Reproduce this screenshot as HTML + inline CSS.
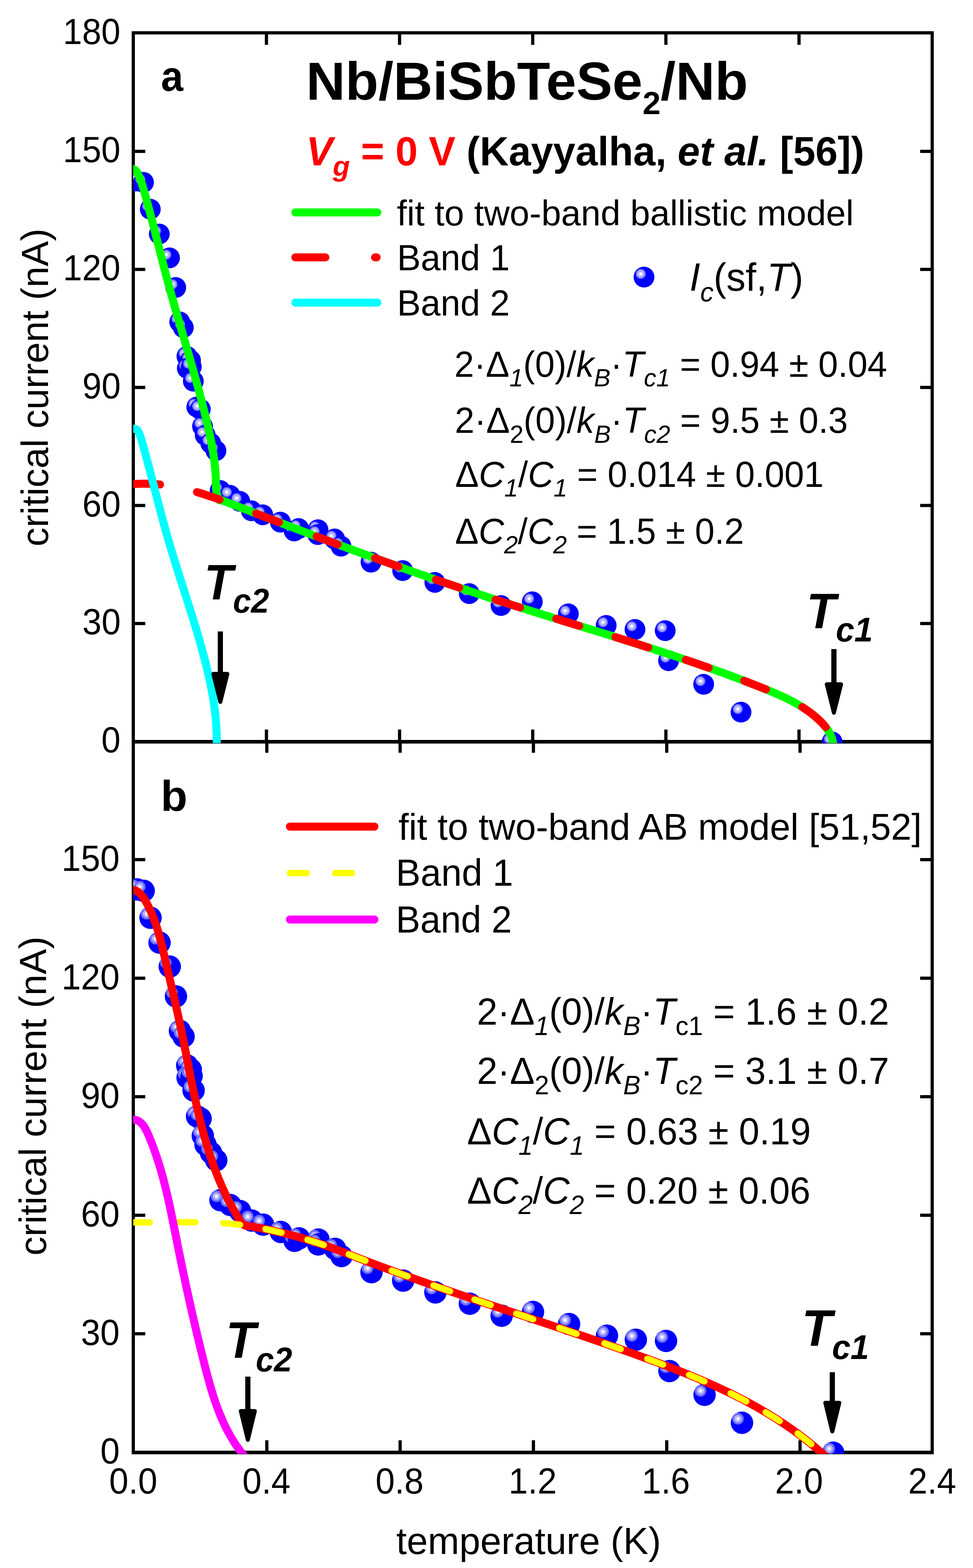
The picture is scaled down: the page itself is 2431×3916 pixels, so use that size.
<!DOCTYPE html><html><head><meta charset="utf-8"><title>critical current vs temperature</title><style>html,body{margin:0;padding:0;background:#fff;}svg{display:block;}</style></head><body><svg xmlns="http://www.w3.org/2000/svg" width="2431" height="3916" viewBox="0 0 2431 3916">
<rect width="2431" height="3916" fill="#fff"/>
<defs><clipPath id="ca"><rect x="333" y="82" width="1996" height="1774"/></clipPath><clipPath id="cb"><rect x="333" y="1856" width="1996" height="1775"/></clipPath></defs>
<rect x="329.0" y="78.0" width="2004.0" height="8.0" fill="#000"/>
<rect x="329.0" y="78.0" width="8.0" height="3554.0" fill="#000"/>
<rect x="2325.0" y="78.0" width="8.0" height="3554.0" fill="#000"/>
<rect x="329.0" y="3623.0" width="2004.0" height="9.0" fill="#000"/>
<rect x="329.0" y="1848.0" width="2004.0" height="9.0" fill="#000"/>
<rect x="337.0" y="1553.2" width="26.0" height="8.0" fill="#000"/>
<rect x="2299.0" y="1553.2" width="26.0" height="8.0" fill="#000"/>
<rect x="337.0" y="3327.0" width="26.0" height="8.0" fill="#000"/>
<rect x="2299.0" y="3327.0" width="26.0" height="8.0" fill="#000"/>
<rect x="337.0" y="1258.4" width="26.0" height="8.0" fill="#000"/>
<rect x="2299.0" y="1258.4" width="26.0" height="8.0" fill="#000"/>
<rect x="337.0" y="3031.0" width="26.0" height="8.0" fill="#000"/>
<rect x="2299.0" y="3031.0" width="26.0" height="8.0" fill="#000"/>
<rect x="337.0" y="963.6" width="26.0" height="8.0" fill="#000"/>
<rect x="2299.0" y="963.6" width="26.0" height="8.0" fill="#000"/>
<rect x="337.0" y="2735.0" width="26.0" height="8.0" fill="#000"/>
<rect x="2299.0" y="2735.0" width="26.0" height="8.0" fill="#000"/>
<rect x="337.0" y="668.8" width="26.0" height="8.0" fill="#000"/>
<rect x="2299.0" y="668.8" width="26.0" height="8.0" fill="#000"/>
<rect x="337.0" y="2439.0" width="26.0" height="8.0" fill="#000"/>
<rect x="2299.0" y="2439.0" width="26.0" height="8.0" fill="#000"/>
<rect x="337.0" y="374.0" width="26.0" height="8.0" fill="#000"/>
<rect x="2299.0" y="374.0" width="26.0" height="8.0" fill="#000"/>
<rect x="337.0" y="2142.9" width="26.0" height="8.0" fill="#000"/>
<rect x="2299.0" y="2142.9" width="26.0" height="8.0" fill="#000"/>
<rect x="661.7" y="86.0" width="8.0" height="26.0" fill="#000"/>
<rect x="661.7" y="1822.0" width="8.0" height="30.0" fill="#000"/>
<rect x="662.6" y="1852.0" width="8.0" height="28.0" fill="#000"/>
<rect x="662.6" y="3597.0" width="8.0" height="30.0" fill="#000"/>
<rect x="994.3" y="86.0" width="8.0" height="26.0" fill="#000"/>
<rect x="994.3" y="1822.0" width="8.0" height="30.0" fill="#000"/>
<rect x="995.7" y="1852.0" width="8.0" height="28.0" fill="#000"/>
<rect x="995.7" y="3597.0" width="8.0" height="30.0" fill="#000"/>
<rect x="1327.0" y="86.0" width="8.0" height="26.0" fill="#000"/>
<rect x="1327.0" y="1822.0" width="8.0" height="30.0" fill="#000"/>
<rect x="1328.7" y="1852.0" width="8.0" height="28.0" fill="#000"/>
<rect x="1328.7" y="3597.0" width="8.0" height="30.0" fill="#000"/>
<rect x="1659.7" y="86.0" width="8.0" height="26.0" fill="#000"/>
<rect x="1659.7" y="1822.0" width="8.0" height="30.0" fill="#000"/>
<rect x="1661.8" y="1852.0" width="8.0" height="28.0" fill="#000"/>
<rect x="1661.8" y="3597.0" width="8.0" height="30.0" fill="#000"/>
<rect x="1992.3" y="86.0" width="8.0" height="26.0" fill="#000"/>
<rect x="1992.3" y="1822.0" width="8.0" height="30.0" fill="#000"/>
<rect x="1994.9" y="1852.0" width="8.0" height="28.0" fill="#000"/>
<rect x="1994.9" y="3597.0" width="8.0" height="30.0" fill="#000"/>
<g clip-path="url(#ca)">
<circle cx="342.0" cy="452.0" r="26.0" fill="#0000ff"/><circle cx="334.0" cy="444.0" r="12.5" fill="#7070ff"/><circle cx="334.0" cy="444.0" r="9.5" fill="#b4b4ff"/><circle cx="334.0" cy="444.0" r="4.1" fill="#f8f8ff"/>
<circle cx="358.5" cy="455.5" r="26.0" fill="#0000ff"/><circle cx="350.5" cy="447.5" r="12.5" fill="#7070ff"/><circle cx="350.5" cy="447.5" r="9.5" fill="#b4b4ff"/><circle cx="350.5" cy="447.5" r="4.1" fill="#f8f8ff"/>
<circle cx="375.5" cy="522.5" r="26.0" fill="#0000ff"/><circle cx="367.5" cy="514.5" r="12.5" fill="#7070ff"/><circle cx="367.5" cy="514.5" r="9.5" fill="#b4b4ff"/><circle cx="367.5" cy="514.5" r="4.1" fill="#f8f8ff"/>
<circle cx="398.0" cy="584.4" r="26.0" fill="#0000ff"/><circle cx="390.0" cy="576.4" r="12.5" fill="#7070ff"/><circle cx="390.0" cy="576.4" r="9.5" fill="#b4b4ff"/><circle cx="390.0" cy="576.4" r="4.1" fill="#f8f8ff"/>
<circle cx="423.5" cy="644.0" r="26.0" fill="#0000ff"/><circle cx="415.5" cy="636.0" r="12.5" fill="#7070ff"/><circle cx="415.5" cy="636.0" r="9.5" fill="#b4b4ff"/><circle cx="415.5" cy="636.0" r="4.1" fill="#f8f8ff"/>
<circle cx="439.0" cy="718.0" r="26.0" fill="#0000ff"/><circle cx="431.0" cy="710.0" r="12.5" fill="#7070ff"/><circle cx="431.0" cy="710.0" r="9.5" fill="#b4b4ff"/><circle cx="431.0" cy="710.0" r="4.1" fill="#f8f8ff"/>
<circle cx="449.0" cy="804.0" r="26.0" fill="#0000ff"/><circle cx="441.0" cy="796.0" r="12.5" fill="#7070ff"/><circle cx="441.0" cy="796.0" r="9.5" fill="#b4b4ff"/><circle cx="441.0" cy="796.0" r="4.1" fill="#f8f8ff"/>
<circle cx="458.0" cy="818.0" r="26.0" fill="#0000ff"/><circle cx="450.0" cy="810.0" r="12.5" fill="#7070ff"/><circle cx="450.0" cy="810.0" r="9.5" fill="#b4b4ff"/><circle cx="450.0" cy="810.0" r="4.1" fill="#f8f8ff"/>
<circle cx="467.0" cy="890.0" r="26.0" fill="#0000ff"/><circle cx="459.0" cy="882.0" r="12.5" fill="#7070ff"/><circle cx="459.0" cy="882.0" r="9.5" fill="#b4b4ff"/><circle cx="459.0" cy="882.0" r="4.1" fill="#f8f8ff"/>
<circle cx="476.0" cy="900.0" r="26.0" fill="#0000ff"/><circle cx="468.0" cy="892.0" r="12.5" fill="#7070ff"/><circle cx="468.0" cy="892.0" r="9.5" fill="#b4b4ff"/><circle cx="468.0" cy="892.0" r="4.1" fill="#f8f8ff"/>
<circle cx="468.0" cy="920.0" r="26.0" fill="#0000ff"/><circle cx="460.0" cy="912.0" r="12.5" fill="#7070ff"/><circle cx="460.0" cy="912.0" r="9.5" fill="#b4b4ff"/><circle cx="460.0" cy="912.0" r="4.1" fill="#f8f8ff"/>
<circle cx="478.0" cy="916.0" r="26.0" fill="#0000ff"/><circle cx="470.0" cy="908.0" r="12.5" fill="#7070ff"/><circle cx="470.0" cy="908.0" r="9.5" fill="#b4b4ff"/><circle cx="470.0" cy="908.0" r="4.1" fill="#f8f8ff"/>
<circle cx="483.0" cy="952.0" r="26.0" fill="#0000ff"/><circle cx="475.0" cy="944.0" r="12.5" fill="#7070ff"/><circle cx="475.0" cy="944.0" r="9.5" fill="#b4b4ff"/><circle cx="475.0" cy="944.0" r="4.1" fill="#f8f8ff"/>
<circle cx="491.6" cy="1016.4" r="26.0" fill="#0000ff"/><circle cx="483.6" cy="1008.4" r="12.5" fill="#7070ff"/><circle cx="483.6" cy="1008.4" r="9.5" fill="#b4b4ff"/><circle cx="483.6" cy="1008.4" r="4.1" fill="#f8f8ff"/>
<circle cx="500.5" cy="1022.0" r="26.0" fill="#0000ff"/><circle cx="492.5" cy="1014.0" r="12.5" fill="#7070ff"/><circle cx="492.5" cy="1014.0" r="9.5" fill="#b4b4ff"/><circle cx="492.5" cy="1014.0" r="4.1" fill="#f8f8ff"/>
<circle cx="506.0" cy="1064.6" r="26.0" fill="#0000ff"/><circle cx="498.0" cy="1056.6" r="12.5" fill="#7070ff"/><circle cx="498.0" cy="1056.6" r="9.5" fill="#b4b4ff"/><circle cx="498.0" cy="1056.6" r="4.1" fill="#f8f8ff"/>
<circle cx="512.8" cy="1087.0" r="26.0" fill="#0000ff"/><circle cx="504.8" cy="1079.0" r="12.5" fill="#7070ff"/><circle cx="504.8" cy="1079.0" r="9.5" fill="#b4b4ff"/><circle cx="504.8" cy="1079.0" r="4.1" fill="#f8f8ff"/>
<circle cx="526.5" cy="1107.0" r="26.0" fill="#0000ff"/><circle cx="518.5" cy="1099.0" r="12.5" fill="#7070ff"/><circle cx="518.5" cy="1099.0" r="9.5" fill="#b4b4ff"/><circle cx="518.5" cy="1099.0" r="4.1" fill="#f8f8ff"/>
<circle cx="539.5" cy="1125.5" r="26.0" fill="#0000ff"/><circle cx="531.5" cy="1117.5" r="12.5" fill="#7070ff"/><circle cx="531.5" cy="1117.5" r="9.5" fill="#b4b4ff"/><circle cx="531.5" cy="1117.5" r="4.1" fill="#f8f8ff"/>
<circle cx="550.0" cy="1225.0" r="26.0" fill="#0000ff"/><circle cx="542.0" cy="1217.0" r="12.5" fill="#7070ff"/><circle cx="542.0" cy="1217.0" r="9.5" fill="#b4b4ff"/><circle cx="542.0" cy="1217.0" r="4.1" fill="#f8f8ff"/>
<circle cx="574.6" cy="1237.0" r="26.0" fill="#0000ff"/><circle cx="566.6" cy="1229.0" r="12.5" fill="#7070ff"/><circle cx="566.6" cy="1229.0" r="9.5" fill="#b4b4ff"/><circle cx="566.6" cy="1229.0" r="4.1" fill="#f8f8ff"/>
<circle cx="599.0" cy="1252.0" r="26.0" fill="#0000ff"/><circle cx="591.0" cy="1244.0" r="12.5" fill="#7070ff"/><circle cx="591.0" cy="1244.0" r="9.5" fill="#b4b4ff"/><circle cx="591.0" cy="1244.0" r="4.1" fill="#f8f8ff"/>
<circle cx="628.0" cy="1275.6" r="26.0" fill="#0000ff"/><circle cx="620.0" cy="1267.6" r="12.5" fill="#7070ff"/><circle cx="620.0" cy="1267.6" r="9.5" fill="#b4b4ff"/><circle cx="620.0" cy="1267.6" r="4.1" fill="#f8f8ff"/>
<circle cx="656.4" cy="1285.7" r="26.0" fill="#0000ff"/><circle cx="648.4" cy="1277.7" r="12.5" fill="#7070ff"/><circle cx="648.4" cy="1277.7" r="9.5" fill="#b4b4ff"/><circle cx="648.4" cy="1277.7" r="4.1" fill="#f8f8ff"/>
<circle cx="700.5" cy="1304.0" r="26.0" fill="#0000ff"/><circle cx="692.5" cy="1296.0" r="12.5" fill="#7070ff"/><circle cx="692.5" cy="1296.0" r="9.5" fill="#b4b4ff"/><circle cx="692.5" cy="1296.0" r="4.1" fill="#f8f8ff"/>
<circle cx="735.0" cy="1326.0" r="26.0" fill="#0000ff"/><circle cx="727.0" cy="1318.0" r="12.5" fill="#7070ff"/><circle cx="727.0" cy="1318.0" r="9.5" fill="#b4b4ff"/><circle cx="727.0" cy="1318.0" r="4.1" fill="#f8f8ff"/>
<circle cx="746.0" cy="1320.0" r="26.0" fill="#0000ff"/><circle cx="738.0" cy="1312.0" r="12.5" fill="#7070ff"/><circle cx="738.0" cy="1312.0" r="9.5" fill="#b4b4ff"/><circle cx="738.0" cy="1312.0" r="4.1" fill="#f8f8ff"/>
<circle cx="794.5" cy="1323.0" r="26.0" fill="#0000ff"/><circle cx="786.5" cy="1315.0" r="12.5" fill="#7070ff"/><circle cx="786.5" cy="1315.0" r="9.5" fill="#b4b4ff"/><circle cx="786.5" cy="1315.0" r="4.1" fill="#f8f8ff"/>
<circle cx="794.0" cy="1335.0" r="26.0" fill="#0000ff"/><circle cx="786.0" cy="1327.0" r="12.5" fill="#7070ff"/><circle cx="786.0" cy="1327.0" r="9.5" fill="#b4b4ff"/><circle cx="786.0" cy="1327.0" r="4.1" fill="#f8f8ff"/>
<circle cx="836.0" cy="1346.0" r="26.0" fill="#0000ff"/><circle cx="828.0" cy="1338.0" r="12.5" fill="#7070ff"/><circle cx="828.0" cy="1338.0" r="9.5" fill="#b4b4ff"/><circle cx="828.0" cy="1338.0" r="4.1" fill="#f8f8ff"/>
<circle cx="852.0" cy="1364.0" r="26.0" fill="#0000ff"/><circle cx="844.0" cy="1356.0" r="12.5" fill="#7070ff"/><circle cx="844.0" cy="1356.0" r="9.5" fill="#b4b4ff"/><circle cx="844.0" cy="1356.0" r="4.1" fill="#f8f8ff"/>
<circle cx="927.0" cy="1404.0" r="26.0" fill="#0000ff"/><circle cx="919.0" cy="1396.0" r="12.5" fill="#7070ff"/><circle cx="919.0" cy="1396.0" r="9.5" fill="#b4b4ff"/><circle cx="919.0" cy="1396.0" r="4.1" fill="#f8f8ff"/>
<circle cx="1006.0" cy="1425.0" r="26.0" fill="#0000ff"/><circle cx="998.0" cy="1417.0" r="12.5" fill="#7070ff"/><circle cx="998.0" cy="1417.0" r="9.5" fill="#b4b4ff"/><circle cx="998.0" cy="1417.0" r="4.1" fill="#f8f8ff"/>
<circle cx="1086.4" cy="1454.4" r="26.0" fill="#0000ff"/><circle cx="1078.4" cy="1446.4" r="12.5" fill="#7070ff"/><circle cx="1078.4" cy="1446.4" r="9.5" fill="#b4b4ff"/><circle cx="1078.4" cy="1446.4" r="4.1" fill="#f8f8ff"/>
<circle cx="1172.4" cy="1482.5" r="26.0" fill="#0000ff"/><circle cx="1164.4" cy="1474.5" r="12.5" fill="#7070ff"/><circle cx="1164.4" cy="1474.5" r="9.5" fill="#b4b4ff"/><circle cx="1164.4" cy="1474.5" r="4.1" fill="#f8f8ff"/>
<circle cx="1251.8" cy="1512.3" r="26.0" fill="#0000ff"/><circle cx="1243.8" cy="1504.3" r="12.5" fill="#7070ff"/><circle cx="1243.8" cy="1504.3" r="9.5" fill="#b4b4ff"/><circle cx="1243.8" cy="1504.3" r="4.1" fill="#f8f8ff"/>
<circle cx="1330.0" cy="1503.0" r="26.0" fill="#0000ff"/><circle cx="1322.0" cy="1495.0" r="12.5" fill="#7070ff"/><circle cx="1322.0" cy="1495.0" r="9.5" fill="#b4b4ff"/><circle cx="1322.0" cy="1495.0" r="4.1" fill="#f8f8ff"/>
<circle cx="1420.0" cy="1533.0" r="26.0" fill="#0000ff"/><circle cx="1412.0" cy="1525.0" r="12.5" fill="#7070ff"/><circle cx="1412.0" cy="1525.0" r="9.5" fill="#b4b4ff"/><circle cx="1412.0" cy="1525.0" r="4.1" fill="#f8f8ff"/>
<circle cx="1514.5" cy="1562.0" r="26.0" fill="#0000ff"/><circle cx="1506.5" cy="1554.0" r="12.5" fill="#7070ff"/><circle cx="1506.5" cy="1554.0" r="9.5" fill="#b4b4ff"/><circle cx="1506.5" cy="1554.0" r="4.1" fill="#f8f8ff"/>
<circle cx="1586.5" cy="1572.0" r="26.0" fill="#0000ff"/><circle cx="1578.5" cy="1564.0" r="12.5" fill="#7070ff"/><circle cx="1578.5" cy="1564.0" r="9.5" fill="#b4b4ff"/><circle cx="1578.5" cy="1564.0" r="4.1" fill="#f8f8ff"/>
<circle cx="1662.0" cy="1575.0" r="26.0" fill="#0000ff"/><circle cx="1654.0" cy="1567.0" r="12.5" fill="#7070ff"/><circle cx="1654.0" cy="1567.0" r="9.5" fill="#b4b4ff"/><circle cx="1654.0" cy="1567.0" r="4.1" fill="#f8f8ff"/>
<circle cx="1670.4" cy="1650.0" r="26.0" fill="#0000ff"/><circle cx="1662.4" cy="1642.0" r="12.5" fill="#7070ff"/><circle cx="1662.4" cy="1642.0" r="9.5" fill="#b4b4ff"/><circle cx="1662.4" cy="1642.0" r="4.1" fill="#f8f8ff"/>
<circle cx="1758.0" cy="1709.0" r="26.0" fill="#0000ff"/><circle cx="1750.0" cy="1701.0" r="12.5" fill="#7070ff"/><circle cx="1750.0" cy="1701.0" r="9.5" fill="#b4b4ff"/><circle cx="1750.0" cy="1701.0" r="4.1" fill="#f8f8ff"/>
<circle cx="1851.4" cy="1778.6" r="26.0" fill="#0000ff"/><circle cx="1843.4" cy="1770.6" r="12.5" fill="#7070ff"/><circle cx="1843.4" cy="1770.6" r="9.5" fill="#b4b4ff"/><circle cx="1843.4" cy="1770.6" r="4.1" fill="#f8f8ff"/>
<circle cx="2079.0" cy="1853.0" r="26.0" fill="#0000ff"/><circle cx="2071.0" cy="1845.0" r="12.5" fill="#7070ff"/><circle cx="2071.0" cy="1845.0" r="9.5" fill="#b4b4ff"/><circle cx="2071.0" cy="1845.0" r="4.1" fill="#f8f8ff"/>
<path d="M333.7 422.0 L335.5 423.2 L337.1 424.4 L338.6 425.9 L340.0 427.4 L341.3 429.0 L342.5 430.7 L343.6 432.4 L344.7 434.3 L345.6 436.1 L346.6 438.0 L347.5 439.9 L348.4 441.8 L349.2 443.8 L350.0 445.8 L350.8 447.7 L351.5 449.7 L352.2 451.8 L352.9 453.8 L353.6 455.8 L354.3 457.9 L354.9 459.9 L355.6 462.0 L356.2 464.1 L356.8 466.2 L357.4 468.3 L358.0 470.3 L358.6 472.4 L359.2 474.5 L359.8 476.6 L360.4 478.7 L361.0 480.7 L361.6 482.8 L362.1 484.9 L362.7 487.0 L363.3 489.1 L363.9 491.2 L364.5 493.2 L365.1 495.3 L365.6 497.4 L366.2 499.5 L366.8 501.6 L367.4 503.7 L367.9 505.8 L368.5 507.8 L369.1 509.9 L369.6 512.0 L370.2 514.1 L370.8 516.2 L371.3 518.3 L371.9 520.3 L372.4 522.4 L373.0 524.5 L373.5 526.6 L374.1 528.7 L374.6 530.8 L375.2 532.9 L375.8 534.9 L376.3 537.0 L376.8 539.1 L377.4 541.2 L377.9 543.3 L378.5 545.4 L379.0 547.5 L379.6 549.5 L380.1 551.6 L380.7 553.7 L381.2 555.8 L381.7 557.9 L382.3 560.0 L382.8 562.1 L383.3 564.2 L383.9 566.2 L384.4 568.3 L385.0 570.4 L385.5 572.5 L386.0 574.6 L386.6 576.7 L387.1 578.8 L387.6 580.8 L388.2 582.9 L388.7 585.0 L389.2 587.1 L389.7 589.2 L390.3 591.3 L390.8 593.4 L391.3 595.4 L391.9 597.5 L392.4 599.6 L392.9 601.7 L393.5 603.8 L394.0 605.9 L394.5 607.9 L395.0 610.0 L395.6 612.1 L396.1 614.2 L396.6 616.3 L397.2 618.4 L397.7 620.5 L398.2 622.5 L398.7 624.6 L399.3 626.7 L399.8 628.8 L400.3 630.9 L400.9 633.0 L401.4 635.0 L401.9 637.1 L402.5 639.2 L403.0 641.3 L403.5 643.4 L404.1 645.5 L404.6 647.5 L405.1 649.6 L405.7 651.7 L406.2 653.8 L406.7 655.9 L407.3 658.0 L407.8 660.0 L408.3 662.1 L408.9 664.2 L409.4 666.3 L410.0 668.4 L410.5 670.4 L411.0 672.5 L411.6 674.6 L412.1 676.7 L412.7 678.8 L413.2 680.8 L413.8 682.9 L414.3 685.0 L414.9 687.1 L415.4 689.2 L416.0 691.2 L416.5 693.3 L417.1 695.4 L417.6 697.5 L418.2 699.5 L418.8 701.6 L419.3 703.7 L419.9 705.8 L420.4 707.8 L421.0 709.9 L421.6 712.0 L422.1 714.1 L422.7 716.1 L423.3 718.2 L423.8 720.3 L424.4 722.4 L425.0 724.4 L425.6 726.5 L426.1 728.6 L426.7 730.7 L427.3 732.7 L427.9 734.8 L428.4 736.9 L429.0 739.0 L429.6 741.0 L430.2 743.1 L430.8 745.2 L431.4 747.2 L431.9 749.3 L432.5 751.4 L433.1 753.5 L433.7 755.5 L434.3 757.6 L434.9 759.7 L435.5 761.7 L436.1 763.8 L436.6 765.9 L437.2 768.0 L437.8 770.0 L438.4 772.1 L439.0 774.2 L439.6 776.2 L440.2 778.3 L440.8 780.4 L441.4 782.4 L442.0 784.5 L442.6 786.6 L443.2 788.6 L443.8 790.7 L444.4 792.8 L445.0 794.9 L445.6 796.9 L446.2 799.0 L446.8 801.1 L447.4 803.1 L448.0 805.2 L448.6 807.3 L449.2 809.3 L449.8 811.4 L450.4 813.5 L451.0 815.5 L451.6 817.6 L452.2 819.7 L452.8 821.7 L453.4 823.8 L454.0 825.9 L454.6 827.9 L455.2 830.0 L455.9 832.1 L456.5 834.2 L457.1 836.2 L457.7 838.3 L458.3 840.4 L458.9 842.4 L459.5 844.5 L460.1 846.6 L460.7 848.6 L461.3 850.7 L461.9 852.8 L462.5 854.8 L463.1 856.9 L463.7 859.0 L464.3 861.0 L464.9 863.1 L465.5 865.2 L466.1 867.2 L466.7 869.3 L467.3 871.4 L467.9 873.4 L468.6 875.5 L469.2 877.6 L469.8 879.7 L470.4 881.7 L471.0 883.8 L471.6 885.9 L472.2 887.9 L472.8 890.0 L473.4 892.1 L474.0 894.1 L474.6 896.2 L475.2 898.3 L475.8 900.4 L476.3 902.4 L476.9 904.5 L477.5 906.6 L478.1 908.6 L478.7 910.7 L479.3 912.8 L479.9 914.8 L480.5 916.9 L481.1 919.0 L481.7 921.1 L482.3 923.1 L482.9 925.2 L483.5 927.3 L484.0 929.4 L484.6 931.4 L485.2 933.5 L485.8 935.6 L486.4 937.6 L487.0 939.7 L487.5 941.8 L488.1 943.9 L488.7 945.9 L489.3 948.0 L489.9 950.1 L490.4 952.2 L491.0 954.2 L491.6 956.3 L492.2 958.4 L492.7 960.5 L493.3 962.5 L493.9 964.6 L494.5 966.7 L495.0 968.8 L495.6 970.8 L496.1 972.9 L496.7 975.0 L497.3 977.1 L497.8 979.2 L498.4 981.2 L499.0 983.3 L499.5 985.4 L500.1 987.5 L500.6 989.6 L501.2 991.6 L501.7 993.7 L502.3 995.8 L502.8 997.9 L503.4 1000.0 L503.9 1002.0 L504.5 1004.1 L505.0 1006.2 L505.5 1008.3 L506.1 1010.4 L506.6 1012.5 L507.2 1014.5 L507.7 1016.6 L508.2 1018.7 L508.8 1020.8 L509.3 1022.9 L509.8 1025.0 L510.3 1027.0 L510.9 1029.1 L511.4 1031.2 L511.9 1033.3 L512.4 1035.4 L512.9 1037.5 L513.4 1039.6 L514.0 1041.7 L514.5 1043.8 L515.0 1045.8 L515.5 1047.9 L516.0 1050.0 L516.5 1052.1 L517.0 1054.2 L517.5 1056.3 L518.0 1058.4 L518.5 1060.5 L519.0 1062.6 L519.4 1064.7 L519.9 1066.8 L520.4 1068.9 L520.9 1071.0 L521.4 1073.1 L521.8 1075.2 L522.3 1077.3 L522.8 1079.4 L523.2 1081.5 L523.7 1083.6 L524.1 1085.7 L524.6 1087.8 L525.0 1089.9 L525.5 1092.0 L525.9 1094.1 L526.3 1096.2 L526.8 1098.3 L527.2 1100.4 L527.6 1102.5 L528.0 1104.6 L528.4 1106.7 L528.8 1108.8 L529.2 1110.9 L529.6 1113.1 L530.0 1115.2 L530.4 1117.3 L530.8 1119.4 L531.1 1121.5 L531.5 1123.6 L531.8 1125.8 L532.2 1127.9 L532.5 1130.0 L532.9 1132.1 L533.2 1134.3 L533.5 1136.4 L533.8 1138.5 L534.1 1140.7 L534.4 1142.8 L534.7 1144.9 L535.0 1147.1 L535.3 1149.2 L535.6 1151.3 L535.8 1153.5 L536.1 1155.6 L536.3 1157.8 L536.6 1159.9 L536.8 1162.0 L537.0 1164.2 L537.2 1166.3 L537.4 1168.5 L537.6 1170.7 L537.8 1172.8 L538.0 1175.0 L538.2 1177.1 L538.3 1179.3 L538.5 1181.4 L538.6 1183.6 L538.7 1185.8 L538.9 1187.9 L539.0 1190.1 L539.1 1192.3 L539.2 1194.5 L539.2 1196.6 L539.3 1198.8 L539.4 1201.0 L539.4 1203.2 L539.5 1205.4 L539.5 1207.6 L539.6 1209.7 L539.6 1211.9 L539.7 1214.1 L539.8 1216.2 L539.9 1218.4 L540.1 1220.5 L540.2 1222.7 L540.4 1224.8 L540.7 1226.9 L541.0 1229.0 L541.3 1231.1 L541.7 1233.1 L542.2 1235.2 L542.7 1237.2 L543.3 1239.2 L544.0 1241.1 L544.7 1243.1 L545.5 1245.0 L546.4 1246.9 L547.4 1248.8 L550.2 1248.3 L551.7 1248.8 L553.2 1249.3 L554.7 1249.9 L556.1 1250.4 L557.6 1251.0 L559.1 1251.5 L560.6 1252.1 L562.1 1252.6 L563.6 1253.2 L565.0 1253.7 L566.5 1254.3 L568.0 1254.8 L569.5 1255.4 L571.0 1256.0 L572.4 1256.5 L573.9 1257.1 L575.4 1257.6 L576.9 1258.2 L578.4 1258.8 L579.8 1259.3 L581.3 1259.9 L582.8 1260.5 L584.3 1261.0 L585.8 1261.6 L587.2 1262.1 L588.7 1262.7 L590.2 1263.3 L591.7 1263.9 L593.2 1264.4 L594.6 1265.0 L596.1 1265.6 L597.6 1266.1 L599.1 1266.7 L600.6 1267.3 L602.0 1267.8 L603.5 1268.4 L605.0 1269.0 L606.5 1269.6 L607.9 1270.1 L609.4 1270.7 L610.9 1271.3 L612.4 1271.8 L613.9 1272.4 L615.3 1273.0 L616.8 1273.6 L618.3 1274.1 L619.8 1274.7 L621.3 1275.3 L622.7 1275.8 L624.2 1276.4 L625.7 1277.0 L627.2 1277.5 L628.6 1278.1 L630.1 1278.7 L631.6 1279.3 L633.1 1279.8 L634.6 1280.4 L636.0 1281.0 L637.5 1281.5 L639.0 1282.1 L640.5 1282.7 L642.0 1283.2 L643.4 1283.8 L644.9 1284.4 L646.4 1284.9 L647.9 1285.5 L649.4 1286.1 L650.8 1286.7 L652.3 1287.2 L653.8 1287.8 L655.3 1288.4 L656.7 1288.9 L658.2 1289.5 L659.7 1290.1 L661.2 1290.6 L662.7 1291.2 L664.1 1291.8 L665.6 1292.3 L667.1 1292.9 L668.6 1293.5 L670.1 1294.0 L671.5 1294.6 L673.0 1295.2 L674.5 1295.7 L676.0 1296.3 L677.5 1296.9 L678.9 1297.4 L680.4 1298.0 L681.9 1298.6 L683.4 1299.1 L684.9 1299.7 L686.3 1300.3 L687.8 1300.8 L689.3 1301.4 L690.8 1302.0 L692.3 1302.5 L693.7 1303.1 L695.2 1303.7 L696.7 1304.2 L698.2 1304.8 L699.7 1305.4 L701.1 1305.9 L702.6 1306.5 L704.1 1307.1 L705.6 1307.6 L707.1 1308.2 L708.5 1308.7 L710.0 1309.3 L711.5 1309.9 L713.0 1310.4 L714.5 1311.0 L715.9 1311.6 L717.4 1312.1 L718.9 1312.7 L720.4 1313.3 L721.9 1313.8 L723.3 1314.4 L724.8 1314.9 L726.3 1315.5 L727.8 1316.1 L729.3 1316.6 L730.8 1317.2 L732.2 1317.8 L733.7 1318.3 L735.2 1318.9 L736.7 1319.4 L738.2 1320.0 L739.6 1320.6 L741.1 1321.1 L742.6 1321.7 L744.1 1322.2 L745.6 1322.8 L747.0 1323.4 L748.5 1323.9 L750.0 1324.5 L751.5 1325.1 L753.0 1325.6 L754.4 1326.2 L755.9 1326.7 L757.4 1327.3 L758.9 1327.9 L760.4 1328.4 L761.9 1329.0 L763.3 1329.5 L764.8 1330.1 L766.3 1330.6 L767.8 1331.2 L769.3 1331.8 L770.7 1332.3 L772.2 1332.9 L773.7 1333.4 L775.2 1334.0 L776.7 1334.6 L778.2 1335.1 L779.6 1335.7 L781.1 1336.2 L782.6 1336.8 L784.1 1337.3 L785.6 1337.9 L787.1 1338.5 L788.5 1339.0 L790.0 1339.6 L791.5 1340.1 L793.0 1340.7 L794.5 1341.2 L795.9 1341.8 L797.4 1342.4 L798.9 1342.9 L800.4 1343.5 L801.9 1344.0 L803.4 1344.6 L804.8 1345.1 L806.3 1345.7 L807.8 1346.2 L809.3 1346.8 L810.8 1347.4 L812.3 1347.9 L813.7 1348.5 L815.2 1349.0 L816.7 1349.6 L818.2 1350.1 L819.7 1350.7 L821.2 1351.2 L822.6 1351.8 L824.1 1352.3 L825.6 1352.9 L827.1 1353.4 L828.6 1354.0 L830.1 1354.5 L831.5 1355.1 L833.0 1355.7 L834.5 1356.2 L836.0 1356.8 L837.5 1357.3 L839.0 1357.9 L840.4 1358.4 L841.9 1359.0 L843.4 1359.5 L844.9 1360.1 L846.4 1360.6 L847.9 1361.2 L849.3 1361.7 L850.8 1362.3 L852.3 1362.8 L853.8 1363.4 L855.3 1363.9 L856.8 1364.5 L858.3 1365.0 L859.7 1365.6 L861.2 1366.1 L862.7 1366.7 L864.2 1367.2 L865.7 1367.8 L867.2 1368.3 L868.6 1368.9 L870.1 1369.4 L871.6 1369.9 L873.1 1370.5 L874.6 1371.0 L876.1 1371.6 L877.6 1372.1 L879.0 1372.7 L880.5 1373.2 L882.0 1373.8 L883.5 1374.3 L885.0 1374.9 L886.5 1375.4 L888.0 1376.0 L889.4 1376.5 L890.9 1377.1 L892.4 1377.6 L893.9 1378.1 L895.4 1378.7 L896.9 1379.2 L898.4 1379.8 L899.8 1380.3 L901.3 1380.9 L902.8 1381.4 L904.3 1382.0 L905.8 1382.5 L907.3 1383.0 L908.8 1383.6 L910.2 1384.1 L911.7 1384.7 L913.2 1385.2 L914.7 1385.8 L916.2 1386.3 L917.7 1386.8 L919.2 1387.4 L920.6 1387.9 L922.1 1388.5 L923.6 1389.0 L925.1 1389.5 L926.6 1390.1 L928.1 1390.6 L929.6 1391.2 L931.1 1391.7 L932.5 1392.2 L934.0 1392.8 L935.5 1393.3 L937.0 1393.9 L938.5 1394.4 L940.0 1394.9 L941.5 1395.5 L943.0 1396.0 L944.4 1396.6 L945.9 1397.1 L947.4 1397.6 L948.9 1398.2 L950.4 1398.7 L951.9 1399.2 L953.4 1399.8 L954.9 1400.3 L956.3 1400.9 L957.8 1401.4 L959.3 1401.9 L960.8 1402.5 L962.3 1403.0 L963.8 1403.5 L965.3 1404.1 L966.8 1404.6 L968.3 1405.1 L969.7 1405.7 L971.2 1406.2 L972.7 1406.7 L974.2 1407.3 L975.7 1407.8 L977.2 1408.3 L978.7 1408.9 L980.2 1409.4 L981.7 1409.9 L983.1 1410.5 L984.6 1411.0 L986.1 1411.5 L987.6 1412.1 L989.1 1412.6 L990.6 1413.1 L992.1 1413.7 L993.6 1414.2 L995.1 1414.7 L996.5 1415.3 L998.0 1415.8 L999.5 1416.3 L1001.0 1416.8 L1002.5 1417.4 L1004.0 1417.9 L1005.5 1418.4 L1007.0 1419.0 L1008.5 1419.5 L1010.0 1420.0 L1011.4 1420.5 L1012.9 1421.1 L1014.4 1421.6 L1015.9 1422.1 L1017.4 1422.7 L1018.9 1423.2 L1020.4 1423.7 L1021.9 1424.2 L1023.4 1424.8 L1024.9 1425.3 L1026.4 1425.8 L1027.8 1426.3 L1029.3 1426.9 L1030.8 1427.4 L1032.3 1427.9 L1033.8 1428.4 L1035.3 1429.0 L1036.8 1429.5 L1038.3 1430.0 L1039.8 1430.5 L1041.3 1431.1 L1042.8 1431.6 L1044.3 1432.1 L1045.7 1432.6 L1047.2 1433.2 L1048.7 1433.7 L1050.2 1434.2 L1051.7 1434.7 L1053.2 1435.2 L1054.7 1435.8 L1056.2 1436.3 L1057.7 1436.8 L1059.2 1437.3 L1060.7 1437.8 L1062.2 1438.4 L1063.7 1438.9 L1065.1 1439.4 L1066.6 1439.9 L1068.1 1440.4 L1069.6 1441.0 L1071.1 1441.5 L1072.6 1442.0 L1074.1 1442.5 L1075.6 1443.0 L1077.1 1443.6 L1078.6 1444.1 L1080.1 1444.6 L1081.6 1445.1 L1083.1 1445.6 L1084.6 1446.1 L1086.1 1446.7 L1087.5 1447.2 L1089.0 1447.7 L1090.5 1448.2 L1092.0 1448.7 L1093.5 1449.2 L1095.0 1449.7 L1096.5 1450.3 L1098.0 1450.8 L1099.5 1451.3 L1101.0 1451.8 L1102.5 1452.3 L1104.0 1452.8 L1105.5 1453.3 L1107.0 1453.9 L1108.5 1454.4 L1110.0 1454.9 L1111.5 1455.4 L1113.0 1455.9 L1114.4 1456.4 L1115.9 1456.9 L1117.4 1457.4 L1118.9 1457.9 L1120.4 1458.5 L1121.9 1459.0 L1123.4 1459.5 L1124.9 1460.0 L1126.4 1460.5 L1127.9 1461.0 L1129.4 1461.5 L1130.9 1462.0 L1132.4 1462.5 L1133.9 1463.0 L1135.4 1463.5 L1136.9 1464.0 L1138.4 1464.6 L1139.9 1465.1 L1141.4 1465.6 L1142.9 1466.1 L1144.4 1466.6 L1145.9 1467.1 L1147.4 1467.6 L1148.9 1468.1 L1150.4 1468.6 L1151.9 1469.1 L1153.4 1469.6 L1154.8 1470.1 L1156.3 1470.6 L1157.8 1471.1 L1159.3 1471.6 L1160.8 1472.1 L1162.3 1472.6 L1163.8 1473.1 L1165.3 1473.6 L1166.8 1474.1 L1168.3 1474.6 L1169.8 1475.1 L1171.3 1475.6 L1172.8 1476.1 L1174.3 1476.6 L1175.8 1477.1 L1177.3 1477.6 L1178.8 1478.1 L1180.3 1478.6 L1181.8 1479.1 L1183.3 1479.6 L1184.8 1480.1 L1186.3 1480.6 L1187.8 1481.1 L1189.3 1481.6 L1190.8 1482.1 L1192.3 1482.6 L1193.8 1483.1 L1195.3 1483.6 L1196.8 1484.1 L1198.3 1484.6 L1199.8 1485.1 L1201.3 1485.6 L1202.8 1486.1 L1204.3 1486.6 L1205.8 1487.1 L1207.3 1487.6 L1208.8 1488.0 L1210.3 1488.5 L1211.8 1489.0 L1213.3 1489.5 L1214.8 1490.0 L1216.3 1490.5 L1217.8 1491.0 L1219.3 1491.5 L1220.8 1492.0 L1222.3 1492.5 L1223.8 1493.0 L1225.3 1493.4 L1226.8 1493.9 L1228.3 1494.4 L1229.8 1494.9 L1231.3 1495.4 L1232.8 1495.9 L1234.3 1496.4 L1235.8 1496.9 L1237.3 1497.4 L1238.8 1497.8 L1240.3 1498.3 L1241.8 1498.8 L1243.3 1499.3 L1244.8 1499.8 L1246.3 1500.3 L1247.8 1500.8 L1249.3 1501.2 L1250.9 1501.7 L1252.4 1502.2 L1253.9 1502.7 L1255.4 1503.2 L1256.9 1503.7 L1258.4 1504.1 L1259.9 1504.6 L1261.4 1505.1 L1262.9 1505.6 L1264.4 1506.1 L1265.9 1506.6 L1267.4 1507.0 L1268.9 1507.5 L1270.4 1508.0 L1271.9 1508.5 L1273.4 1509.0 L1274.9 1509.4 L1276.4 1509.9 L1277.9 1510.4 L1279.4 1510.9 L1280.9 1511.3 L1282.4 1511.8 L1283.9 1512.3 L1285.4 1512.8 L1286.9 1513.3 L1288.5 1513.7 L1290.0 1514.2 L1291.5 1514.7 L1293.0 1515.2 L1294.5 1515.6 L1296.0 1516.1 L1297.5 1516.6 L1299.0 1517.1 L1300.5 1517.5 L1302.0 1518.0 L1303.5 1518.5 L1305.0 1519.0 L1306.5 1519.4 L1308.0 1519.9 L1309.5 1520.4 L1311.0 1520.9 L1312.5 1521.3 L1314.0 1521.8 L1315.6 1522.3 L1317.1 1522.8 L1318.6 1523.2 L1320.1 1523.7 L1321.6 1524.2 L1323.1 1524.6 L1324.6 1525.1 L1326.1 1525.6 L1327.6 1526.1 L1329.1 1526.5 L1330.6 1527.0 L1332.1 1527.5 L1333.6 1527.9 L1335.1 1528.4 L1336.6 1528.9 L1338.1 1529.4 L1339.7 1529.8 L1341.2 1530.3 L1342.7 1530.8 L1344.2 1531.2 L1345.7 1531.7 L1347.2 1532.2 L1348.7 1532.6 L1350.2 1533.1 L1351.7 1533.6 L1353.2 1534.1 L1354.7 1534.5 L1356.2 1535.0 L1357.7 1535.5 L1359.3 1535.9 L1360.8 1536.4 L1362.3 1536.9 L1363.8 1537.3 L1365.3 1537.8 L1366.8 1538.3 L1368.3 1538.7 L1369.8 1539.2 L1371.3 1539.7 L1372.8 1540.1 L1374.3 1540.6 L1375.8 1541.1 L1377.3 1541.5 L1378.9 1542.0 L1380.4 1542.5 L1381.9 1542.9 L1383.4 1543.4 L1384.9 1543.9 L1386.4 1544.3 L1387.9 1544.8 L1389.4 1545.3 L1390.9 1545.7 L1392.4 1546.2 L1393.9 1546.7 L1395.4 1547.1 L1397.0 1547.6 L1398.5 1548.1 L1400.0 1548.5 L1401.5 1549.0 L1403.0 1549.5 L1404.5 1549.9 L1406.0 1550.4 L1407.5 1550.9 L1409.0 1551.3 L1410.5 1551.8 L1412.0 1552.3 L1413.6 1552.7 L1415.1 1553.2 L1416.6 1553.6 L1418.1 1554.1 L1419.6 1554.6 L1421.1 1555.0 L1422.6 1555.5 L1424.1 1556.0 L1425.6 1556.4 L1427.1 1556.9 L1428.6 1557.4 L1430.1 1557.8 L1431.7 1558.3 L1433.2 1558.8 L1434.7 1559.2 L1436.2 1559.7 L1437.7 1560.2 L1439.2 1560.6 L1440.7 1561.1 L1442.2 1561.5 L1443.7 1562.0 L1445.2 1562.5 L1446.7 1562.9 L1448.3 1563.4 L1449.8 1563.9 L1451.3 1564.3 L1452.8 1564.8 L1454.3 1565.3 L1455.8 1565.7 L1457.3 1566.2 L1458.8 1566.7 L1460.3 1567.1 L1461.8 1567.6 L1463.3 1568.1 L1464.9 1568.5 L1466.4 1569.0 L1467.9 1569.5 L1469.4 1569.9 L1470.9 1570.4 L1472.4 1570.9 L1473.9 1571.3 L1475.4 1571.8 L1476.9 1572.2 L1478.4 1572.7 L1480.0 1573.2 L1481.5 1573.6 L1483.0 1574.1 L1484.5 1574.6 L1486.0 1575.0 L1487.5 1575.5 L1489.0 1576.0 L1490.5 1576.4 L1492.0 1576.9 L1493.5 1577.4 L1495.0 1577.8 L1496.5 1578.3 L1498.1 1578.8 L1499.6 1579.2 L1501.1 1579.7 L1502.6 1580.2 L1504.1 1580.6 L1505.6 1581.1 L1507.1 1581.6 L1508.6 1582.1 L1510.1 1582.5 L1511.6 1583.0 L1513.1 1583.5 L1514.7 1583.9 L1516.2 1584.4 L1517.7 1584.9 L1519.2 1585.3 L1520.7 1585.8 L1522.2 1586.3 L1523.7 1586.7 L1525.2 1587.2 L1526.7 1587.7 L1528.2 1588.1 L1529.7 1588.6 L1531.3 1589.1 L1532.8 1589.6 L1534.3 1590.0 L1535.8 1590.5 L1537.3 1591.0 L1538.8 1591.4 L1540.3 1591.9 L1541.8 1592.4 L1543.3 1592.9 L1544.8 1593.3 L1546.3 1593.8 L1547.8 1594.3 L1549.3 1594.7 L1550.9 1595.2 L1552.4 1595.7 L1553.9 1596.2 L1555.4 1596.6 L1556.9 1597.1 L1558.4 1597.6 L1559.9 1598.0 L1561.4 1598.5 L1562.9 1599.0 L1564.4 1599.5 L1565.9 1599.9 L1567.4 1600.4 L1569.0 1600.9 L1570.5 1601.4 L1572.0 1601.8 L1573.5 1602.3 L1575.0 1602.8 L1576.5 1603.3 L1578.0 1603.7 L1579.5 1604.2 L1581.0 1604.7 L1582.5 1605.2 L1584.0 1605.7 L1585.5 1606.1 L1587.0 1606.6 L1588.5 1607.1 L1590.1 1607.6 L1591.6 1608.0 L1593.1 1608.5 L1594.6 1609.0 L1596.1 1609.5 L1597.6 1610.0 L1599.1 1610.4 L1600.6 1610.9 L1602.1 1611.4 L1603.6 1611.9 L1605.1 1612.4 L1606.6 1612.8 L1608.1 1613.3 L1609.6 1613.8 L1611.1 1614.3 L1612.6 1614.8 L1614.2 1615.3 L1615.7 1615.7 L1617.2 1616.2 L1618.7 1616.7 L1620.2 1617.2 L1621.7 1617.7 L1623.2 1618.2 L1624.7 1618.6 L1626.2 1619.1 L1627.7 1619.6 L1629.2 1620.1 L1630.7 1620.6 L1632.2 1621.1 L1633.7 1621.6 L1635.2 1622.1 L1636.7 1622.5 L1638.2 1623.0 L1639.7 1623.5 L1641.2 1624.0 L1642.8 1624.5 L1644.3 1625.0 L1645.8 1625.5 L1647.3 1626.0 L1648.8 1626.5 L1650.3 1626.9 L1651.8 1627.4 L1653.3 1627.9 L1654.8 1628.4 L1656.3 1628.9 L1657.8 1629.4 L1659.3 1629.9 L1660.8 1630.4 L1662.3 1630.9 L1663.8 1631.4 L1665.3 1631.9 L1666.8 1632.4 L1668.3 1632.9 L1669.8 1633.4 L1671.3 1633.9 L1672.8 1634.4 L1674.3 1634.9 L1675.8 1635.3 L1677.3 1635.8 L1678.8 1636.3 L1680.3 1636.8 L1681.8 1637.3 L1683.3 1637.8 L1684.8 1638.3 L1686.3 1638.8 L1687.8 1639.3 L1689.3 1639.8 L1690.9 1640.3 L1692.4 1640.9 L1693.9 1641.4 L1695.4 1641.9 L1696.9 1642.4 L1698.4 1642.9 L1699.9 1643.4 L1701.4 1643.9 L1702.9 1644.4 L1704.4 1644.9 L1705.9 1645.4 L1707.4 1645.9 L1708.9 1646.4 L1710.4 1646.9 L1711.9 1647.4 L1713.4 1647.9 L1714.9 1648.4 L1716.4 1648.9 L1717.9 1649.5 L1719.4 1650.0 L1720.9 1650.5 L1722.4 1651.0 L1723.9 1651.5 L1725.4 1652.0 L1726.9 1652.5 L1728.4 1653.0 L1729.9 1653.6 L1731.4 1654.1 L1732.9 1654.6 L1734.4 1655.1 L1735.9 1655.6 L1737.4 1656.1 L1738.9 1656.7 L1740.3 1657.2 L1741.8 1657.7 L1743.3 1658.2 L1744.8 1658.7 L1746.3 1659.2 L1747.8 1659.8 L1749.3 1660.3 L1750.8 1660.8 L1752.3 1661.3 L1753.8 1661.9 L1755.3 1662.4 L1756.8 1662.9 L1758.3 1663.4 L1759.8 1663.9 L1761.3 1664.5 L1762.8 1665.0 L1764.3 1665.5 L1765.8 1666.1 L1767.3 1666.6 L1768.8 1667.1 L1770.3 1667.6 L1771.8 1668.2 L1773.3 1668.7 L1774.8 1669.2 L1776.3 1669.8 L1777.8 1670.3 L1779.3 1670.8 L1780.8 1671.4 L1782.2 1671.9 L1783.7 1672.4 L1785.2 1673.0 L1786.7 1673.5 L1788.2 1674.0 L1789.7 1674.6 L1791.2 1675.1 L1792.7 1675.6 L1794.2 1676.2 L1795.7 1676.7 L1797.2 1677.2 L1798.7 1677.8 L1800.2 1678.3 L1801.7 1678.9 L1803.2 1679.4 L1804.6 1680.0 L1806.1 1680.5 L1807.6 1681.0 L1809.1 1681.6 L1810.6 1682.1 L1812.1 1682.7 L1813.6 1683.2 L1815.1 1683.8 L1816.6 1684.3 L1818.1 1684.9 L1819.6 1685.4 L1821.1 1686.0 L1822.5 1686.5 L1824.0 1687.1 L1825.5 1687.6 L1827.0 1688.2 L1828.5 1688.7 L1830.0 1689.3 L1831.5 1689.8 L1833.0 1690.4 L1834.5 1690.9 L1836.0 1691.5 L1837.4 1692.1 L1838.9 1692.6 L1840.4 1693.2 L1841.9 1693.7 L1843.4 1694.3 L1844.9 1694.9 L1846.4 1695.4 L1847.9 1696.0 L1849.3 1696.5 L1850.8 1697.1 L1852.3 1697.7 L1853.8 1698.2 L1855.3 1698.8 L1856.8 1699.4 L1858.3 1699.9 L1859.8 1700.5 L1861.2 1701.1 L1862.7 1701.6 L1864.2 1702.2 L1865.7 1702.8 L1867.2 1703.3 L1868.7 1703.9 L1870.2 1704.5 L1871.6 1705.1 L1873.1 1705.6 L1874.6 1706.2 L1876.1 1706.8 L1877.6 1707.4 L1879.1 1707.9 L1880.5 1708.5 L1882.0 1709.1 L1883.5 1709.7 L1885.0 1710.3 L1886.5 1710.8 L1888.0 1711.4 L1889.5 1712.0 L1890.9 1712.6 L1892.4 1713.2 L1893.9 1713.8 L1895.4 1714.3 L1896.9 1714.9 L1898.3 1715.5 L1899.8 1716.1 L1901.3 1716.7 L1902.8 1717.3 L1904.3 1717.9 L1905.8 1718.5 L1907.2 1719.1 L1908.7 1719.7 L1910.2 1720.3 L1911.7 1720.8 L1913.1 1721.4 L1914.6 1722.0 L1916.1 1722.6 L1917.6 1723.2 L1919.1 1723.9 L1920.5 1724.5 L1922.0 1725.1 L1923.5 1725.7 L1924.9 1726.3 L1926.4 1726.9 L1927.9 1727.5 L1929.3 1728.1 L1930.8 1728.7 L1932.3 1729.4 L1933.7 1730.0 L1935.2 1730.6 L1936.7 1731.2 L1938.1 1731.9 L1939.6 1732.5 L1941.0 1733.1 L1942.5 1733.8 L1943.9 1734.4 L1945.4 1735.1 L1946.8 1735.7 L1948.3 1736.4 L1949.7 1737.0 L1951.2 1737.7 L1952.6 1738.3 L1954.0 1739.0 L1955.5 1739.7 L1956.9 1740.3 L1958.3 1741.0 L1959.8 1741.7 L1961.2 1742.4 L1962.6 1743.0 L1964.0 1743.7 L1965.5 1744.4 L1966.9 1745.1 L1968.3 1745.8 L1969.7 1746.5 L1971.1 1747.2 L1972.5 1747.9 L1973.9 1748.6 L1975.3 1749.4 L1976.7 1750.1 L1978.1 1750.8 L1979.5 1751.5 L1980.9 1752.3 L1982.2 1753.0 L1983.6 1753.8 L1985.0 1754.5 L1986.4 1755.3 L1987.7 1756.0 L1989.1 1756.8 L1990.4 1757.6 L1991.8 1758.4 L1993.2 1759.1 L1994.5 1759.9 L1995.8 1760.7 L1997.2 1761.5 L1998.5 1762.3 L1999.8 1763.1 L2001.2 1763.9 L2002.5 1764.8 L2003.8 1765.6 L2005.1 1766.4 L2006.4 1767.2 L2007.7 1768.1 L2009.0 1768.9 L2010.3 1769.8 L2011.6 1770.7 L2012.9 1771.5 L2014.2 1772.4 L2015.5 1773.3 L2016.8 1774.2 L2018.0 1775.0 L2019.3 1775.9 L2020.5 1776.9 L2021.8 1777.8 L2023.0 1778.7 L2024.3 1779.6 L2025.5 1780.5 L2026.7 1781.5 L2028.0 1782.4 L2029.2 1783.4 L2030.4 1784.3 L2031.6 1785.3 L2032.8 1786.3 L2034.0 1787.3 L2035.2 1788.3 L2036.4 1789.3 L2037.6 1790.3 L2038.7 1791.3 L2039.9 1792.3 L2041.1 1793.3 L2042.2 1794.4 L2043.4 1795.4 L2044.5 1796.5 L2045.7 1797.5 L2046.8 1798.6 L2047.9 1799.7 L2049.0 1800.7 L2050.2 1801.8 L2051.3 1802.9 L2052.4 1804.0 L2053.4 1805.2 L2054.5 1806.3 L2055.6 1807.4 L2056.7 1808.6 L2057.7 1809.7 L2058.7 1810.9 L2059.8 1812.1 L2060.8 1813.3 L2061.8 1814.5 L2062.8 1815.7 L2063.7 1816.9 L2064.7 1818.1 L2065.6 1819.4 L2066.5 1820.6 L2067.4 1821.9 L2068.3 1823.2 L2069.2 1824.5 L2070.0 1825.8 L2070.8 1827.1 L2071.6 1828.4 L2072.4 1829.8 L2073.1 1831.1 L2073.9 1832.5 L2074.6 1833.9 L2075.2 1835.3 L2075.9 1836.7 L2076.5 1838.2 L2077.1 1839.6 L2077.6 1841.1 L2078.2 1842.6 L2078.7 1844.1 L2079.1 1845.6 L2079.6 1847.1 L2080.0 1848.6 L2080.4 1850.2 L2080.7 1851.8 L2081.0 1853.4 L2081.3 1855.0 L2081.5 1856.7 L2081.7 1858.3 L2081.8 1860.0 L2081.9 1861.7" fill="none" stroke="#00ff00" stroke-width="20" stroke-linecap="round" stroke-linejoin="round"/>
<path d="M333.0 1209.1 L334.1 1209.0 L335.7 1208.9 L337.4 1208.8 L339.0 1208.7 L340.6 1208.6 L342.2 1208.5 L343.9 1208.4 L345.5 1208.3 L347.1 1208.3 L348.7 1208.2 L350.3 1208.2 L352.0 1208.1 L353.6 1208.1 L355.2 1208.1 L356.8 1208.0 L358.4 1208.0 L360.0 1208.0 L361.6 1208.0 L363.2 1208.0 L364.8 1208.0 L366.4 1208.1 L368.0 1208.1 L369.6 1208.1 L371.2 1208.2 L372.8 1208.2 L374.4 1208.3 L376.0 1208.3 L377.6 1208.4 L379.2 1208.5 L380.8 1208.6 L382.4 1208.7 L384.0 1208.8 L385.5 1208.9 L387.1 1209.0 L388.7 1209.1 L390.3 1209.2 L391.9 1209.3 L393.4 1209.5 L395.0 1209.6 L396.6 1209.7 L398.2 1209.9 L399.7 1210.1 L399.9 1210.1" fill="none" stroke="#ff0000" stroke-width="20" stroke-linecap="round" stroke-linejoin="round"/>
<path d="M492.1 1229.0 L493.4 1229.4 L494.9 1229.8 L496.4 1230.2 L497.9 1230.7 L499.4 1231.2 L500.9 1231.6 L502.4 1232.1 L503.9 1232.5 L505.4 1233.0 L506.9 1233.5 L508.4 1234.0 L509.9 1234.4 L511.4 1234.9 L512.9 1235.4 L514.4 1235.9 L515.9 1236.4 L517.4 1236.9 L518.9 1237.4 L520.4 1237.9 L521.9 1238.4 L523.4 1238.9 L524.9 1239.4 L526.4 1239.9 L527.9 1240.4 L529.4 1240.9 L530.9 1241.4 L532.3 1241.9 L533.8 1242.4 L535.3 1243.0 L536.8 1243.5 L538.3 1244.0 L539.8 1244.5 L541.3 1245.0 L542.8 1245.6 L544.3 1246.1 L545.7 1246.6 L547.2 1247.2 L548.6 1247.7" fill="none" stroke="#ff0000" stroke-width="20" stroke-linecap="round" stroke-linejoin="round"/>
<path d="M639.8 1282.4 L640.5 1282.7 L642.0 1283.2 L643.4 1283.8 L644.9 1284.4 L646.4 1284.9 L647.9 1285.5 L649.4 1286.1 L650.8 1286.7 L652.3 1287.2 L653.8 1287.8 L655.3 1288.4 L656.7 1288.9 L658.2 1289.5 L659.7 1290.1 L661.2 1290.6 L662.7 1291.2 L664.1 1291.8 L665.6 1292.3 L667.1 1292.9 L668.6 1293.5 L670.1 1294.0 L671.5 1294.6 L673.0 1295.2 L674.5 1295.7 L676.0 1296.3 L677.5 1296.9 L678.9 1297.4 L680.4 1298.0 L681.9 1298.6 L683.4 1299.1 L684.9 1299.7 L686.3 1300.3 L687.8 1300.8 L689.3 1301.4 L690.8 1302.0 L692.3 1302.5 L693.7 1303.1 L695.2 1303.7 L696.7 1304.2 L697.2 1304.4" fill="none" stroke="#ff0000" stroke-width="20" stroke-linecap="round" stroke-linejoin="round"/>
<path d="M791.0 1339.9 L791.5 1340.1 L793.0 1340.7 L794.5 1341.2 L795.9 1341.8 L797.4 1342.4 L798.9 1342.9 L800.4 1343.5 L801.9 1344.0 L803.4 1344.6 L804.8 1345.1 L806.3 1345.7 L807.8 1346.2 L809.3 1346.8 L810.8 1347.4 L812.3 1347.9 L813.7 1348.5 L815.2 1349.0 L816.7 1349.6 L818.2 1350.1 L819.7 1350.7 L821.2 1351.2 L822.6 1351.8 L824.1 1352.3 L825.6 1352.9 L827.1 1353.4 L828.6 1354.0 L830.1 1354.5 L831.5 1355.1 L833.0 1355.7 L834.5 1356.2 L836.0 1356.8 L837.5 1357.3 L839.0 1357.9 L840.4 1358.4 L841.9 1359.0 L843.4 1359.5 L843.6 1359.6" fill="none" stroke="#ff0000" stroke-width="20" stroke-linecap="round" stroke-linejoin="round"/>
<path d="M937.1 1393.9 L938.5 1394.4 L940.0 1394.9 L941.5 1395.5 L943.0 1396.0 L944.4 1396.6 L945.9 1397.1 L947.4 1397.6 L948.9 1398.2 L950.4 1398.7 L951.9 1399.2 L953.4 1399.8 L954.9 1400.3 L956.3 1400.9 L957.8 1401.4 L959.3 1401.9 L960.8 1402.5 L962.3 1403.0 L963.8 1403.5 L965.3 1404.1 L966.8 1404.6 L968.3 1405.1 L969.7 1405.7 L971.2 1406.2 L972.7 1406.7 L974.2 1407.3 L975.7 1407.8 L977.2 1408.3 L978.7 1408.9 L980.2 1409.4 L981.7 1409.9 L983.1 1410.5 L984.6 1411.0 L986.1 1411.5 L987.6 1412.1 L989.1 1412.6 L990.6 1413.1 L992.1 1413.7 L993.6 1414.2 L995.1 1414.7 L995.5 1414.9" fill="none" stroke="#ff0000" stroke-width="20" stroke-linecap="round" stroke-linejoin="round"/>
<path d="M1089.3 1447.8 L1090.5 1448.2 L1092.0 1448.7 L1093.5 1449.2 L1095.0 1449.7 L1096.5 1450.3 L1098.0 1450.8 L1099.5 1451.3 L1101.0 1451.8 L1102.5 1452.3 L1104.0 1452.8 L1105.5 1453.3 L1107.0 1453.9 L1108.5 1454.4 L1110.0 1454.9 L1111.5 1455.4 L1113.0 1455.9 L1114.4 1456.4 L1115.9 1456.9 L1117.4 1457.4 L1118.9 1457.9 L1120.4 1458.5 L1121.9 1459.0 L1123.4 1459.5 L1124.9 1460.0 L1126.4 1460.5 L1127.9 1461.0 L1129.4 1461.5 L1130.9 1462.0 L1132.4 1462.5 L1133.9 1463.0 L1135.4 1463.5 L1136.9 1464.0 L1138.4 1464.6 L1139.9 1465.1 L1141.4 1465.6 L1142.9 1466.1 L1144.4 1466.6 L1145.9 1467.1 L1147.4 1467.6 L1147.4 1467.6" fill="none" stroke="#ff0000" stroke-width="20" stroke-linecap="round" stroke-linejoin="round"/>
<path d="M1238.5 1497.7 L1238.8 1497.8 L1240.3 1498.3 L1241.8 1498.8 L1243.3 1499.3 L1244.8 1499.8 L1246.3 1500.3 L1247.8 1500.8 L1249.3 1501.2 L1250.9 1501.7 L1252.4 1502.2 L1253.9 1502.7 L1255.4 1503.2 L1256.9 1503.7 L1258.4 1504.1 L1259.9 1504.6 L1261.4 1505.1 L1262.9 1505.6 L1264.4 1506.1 L1265.9 1506.6 L1267.4 1507.0 L1268.9 1507.5 L1270.4 1508.0 L1271.9 1508.5 L1273.4 1509.0 L1274.9 1509.4 L1276.4 1509.9 L1277.9 1510.4 L1279.4 1510.9 L1280.9 1511.3 L1282.4 1511.8 L1283.9 1512.3 L1285.4 1512.8 L1286.9 1513.3 L1288.5 1513.7 L1290.0 1514.2 L1291.5 1514.7 L1293.0 1515.2 L1294.5 1515.6 L1296.0 1516.1 L1297.5 1516.6 L1299.0 1517.1 L1299.5 1517.2" fill="none" stroke="#ff0000" stroke-width="20" stroke-linecap="round" stroke-linejoin="round"/>
<path d="M1389.8 1545.4 L1390.9 1545.7 L1392.4 1546.2 L1393.9 1546.7 L1395.4 1547.1 L1397.0 1547.6 L1398.5 1548.1 L1400.0 1548.5 L1401.5 1549.0 L1403.0 1549.5 L1404.5 1549.9 L1406.0 1550.4 L1407.5 1550.9 L1409.0 1551.3 L1410.5 1551.8 L1412.0 1552.3 L1413.6 1552.7 L1415.1 1553.2 L1416.6 1553.6 L1418.1 1554.1 L1419.6 1554.6 L1421.1 1555.0 L1422.6 1555.5 L1424.1 1556.0 L1425.6 1556.4 L1427.1 1556.9 L1428.6 1557.4 L1430.1 1557.8 L1431.7 1558.3 L1433.2 1558.8 L1434.7 1559.2 L1436.2 1559.7 L1437.7 1560.2 L1439.2 1560.6 L1440.7 1561.1 L1442.2 1561.5 L1443.7 1562.0 L1445.2 1562.5 L1446.7 1562.9 L1447.3 1563.1" fill="none" stroke="#ff0000" stroke-width="20" stroke-linecap="round" stroke-linejoin="round"/>
<path d="M1537.5 1591.0 L1538.8 1591.4 L1540.3 1591.9 L1541.8 1592.4 L1543.3 1592.9 L1544.8 1593.3 L1546.3 1593.8 L1547.8 1594.3 L1549.3 1594.7 L1550.9 1595.2 L1552.4 1595.7 L1553.9 1596.2 L1555.4 1596.6 L1556.9 1597.1 L1558.4 1597.6 L1559.9 1598.0 L1561.4 1598.5 L1562.9 1599.0 L1564.4 1599.5 L1565.9 1599.9 L1567.4 1600.4 L1569.0 1600.9 L1570.5 1601.4 L1572.0 1601.8 L1573.5 1602.3 L1575.0 1602.8 L1576.5 1603.3 L1578.0 1603.7 L1579.5 1604.2 L1581.0 1604.7 L1582.5 1605.2 L1584.0 1605.7 L1585.5 1606.1 L1587.0 1606.6 L1588.5 1607.1 L1590.1 1607.6 L1591.6 1608.0 L1593.1 1608.5 L1594.6 1609.0 L1596.1 1609.5 L1597.6 1610.0 L1599.1 1610.4 L1600.6 1610.9 L1602.1 1611.4 L1603.6 1611.9 L1605.1 1612.4 L1606.6 1612.8 L1608.1 1613.3 L1609.6 1613.8 L1611.1 1614.3 L1612.6 1614.8 L1614.2 1615.3 L1615.7 1615.7 L1617.2 1616.2 L1618.7 1616.7 L1619.7 1617.0" fill="none" stroke="#ff0000" stroke-width="20" stroke-linecap="round" stroke-linejoin="round"/>
<path d="M1713.5 1648.0 L1714.9 1648.4 L1716.4 1648.9 L1717.9 1649.5 L1719.4 1650.0 L1720.9 1650.5 L1722.4 1651.0 L1723.9 1651.5 L1725.4 1652.0 L1726.9 1652.5 L1728.4 1653.0 L1729.9 1653.6 L1731.4 1654.1 L1732.9 1654.6 L1734.4 1655.1 L1735.9 1655.6 L1737.4 1656.1 L1738.9 1656.7 L1740.3 1657.2 L1741.8 1657.7 L1743.3 1658.2 L1744.8 1658.7 L1746.3 1659.2 L1747.8 1659.8 L1749.3 1660.3 L1750.8 1660.8 L1752.3 1661.3 L1753.8 1661.9 L1755.3 1662.4 L1756.8 1662.9 L1758.3 1663.4 L1759.8 1663.9 L1761.3 1664.5 L1762.8 1665.0 L1764.3 1665.5 L1765.8 1666.1 L1767.3 1666.6 L1768.8 1667.1 L1770.3 1667.6 L1770.5 1667.7" fill="none" stroke="#ff0000" stroke-width="20" stroke-linecap="round" stroke-linejoin="round"/>
<path d="M1859.3 1700.3 L1859.8 1700.5 L1861.2 1701.1 L1862.7 1701.6 L1864.2 1702.2 L1865.7 1702.8 L1867.2 1703.3 L1868.7 1703.9 L1870.2 1704.5 L1871.6 1705.1 L1873.1 1705.6 L1874.6 1706.2 L1876.1 1706.8 L1877.6 1707.4 L1879.1 1707.9 L1880.5 1708.5 L1882.0 1709.1 L1883.5 1709.7 L1885.0 1710.3 L1886.5 1710.8 L1888.0 1711.4 L1889.5 1712.0 L1890.9 1712.6 L1892.4 1713.2 L1893.9 1713.8 L1895.4 1714.3 L1896.9 1714.9 L1898.3 1715.5 L1899.8 1716.1 L1901.3 1716.7 L1902.8 1717.3 L1904.3 1717.9 L1905.8 1718.5 L1907.2 1719.1 L1908.7 1719.7 L1910.2 1720.3 L1911.7 1720.8 L1913.1 1721.4 L1913.7 1721.7" fill="none" stroke="#ff0000" stroke-width="20" stroke-linecap="round" stroke-linejoin="round"/>
<path d="M2004.4 1766.0 L2005.1 1766.4 L2006.4 1767.2 L2007.7 1768.1 L2009.0 1768.9 L2010.3 1769.8 L2011.6 1770.7 L2012.9 1771.5 L2014.2 1772.4 L2015.5 1773.3 L2016.8 1774.2 L2018.0 1775.0 L2019.3 1775.9 L2020.5 1776.9 L2021.8 1777.8 L2023.0 1778.7 L2024.3 1779.6 L2025.5 1780.5 L2026.7 1781.5 L2028.0 1782.4 L2029.2 1783.4 L2030.4 1784.3 L2031.6 1785.3 L2032.8 1786.3 L2034.0 1787.3 L2035.2 1788.3 L2036.4 1789.3 L2037.6 1790.3 L2038.7 1791.3 L2039.9 1792.3 L2041.1 1793.3 L2042.2 1794.4 L2043.4 1795.4 L2044.5 1796.5 L2045.7 1797.5 L2046.8 1798.6 L2047.9 1799.7 L2049.0 1800.7 L2050.2 1801.8 L2051.3 1802.9 L2052.4 1804.0 L2053.4 1805.2 L2054.5 1806.3 L2055.6 1807.4 L2056.7 1808.6 L2057.7 1809.7 L2058.7 1810.9 L2059.8 1812.1 L2060.8 1813.3 L2061.8 1814.5 L2062.8 1815.7 L2063.0 1816.0" fill="none" stroke="#ff0000" stroke-width="20" stroke-linecap="round" stroke-linejoin="round"/>
<path d="M332.9 1070.9 L335.5 1070.7 L337.7 1070.9 L339.6 1071.6 L341.2 1072.7 L342.6 1074.0 L343.8 1075.6 L345.0 1077.2 L346.0 1078.9 L347.0 1080.6 L347.8 1082.4 L348.7 1084.3 L349.4 1086.1 L350.2 1088.0 L350.8 1090.0 L351.5 1091.9 L352.1 1093.9 L352.7 1095.9 L353.3 1097.9 L353.9 1099.9 L354.4 1101.9 L355.0 1103.9 L355.6 1105.9 L356.1 1107.9 L356.7 1109.9 L357.3 1111.9 L357.8 1113.9 L358.4 1115.9 L358.9 1117.9 L359.5 1119.9 L360.0 1121.9 L360.6 1123.9 L361.2 1125.9 L361.7 1127.9 L362.3 1129.9 L362.8 1131.9 L363.4 1133.9 L363.9 1135.9 L364.4 1137.9 L365.0 1139.9 L365.5 1141.9 L366.1 1143.9 L366.6 1145.9 L367.2 1148.0 L367.7 1150.0 L368.2 1152.0 L368.8 1154.0 L369.3 1156.0 L369.8 1158.0 L370.4 1160.0 L370.9 1162.0 L371.4 1164.0 L372.0 1166.0 L372.5 1168.0 L373.0 1170.0 L373.6 1172.0 L374.1 1174.0 L374.6 1176.0 L375.1 1178.0 L375.7 1180.0 L376.2 1182.1 L376.7 1184.1 L377.2 1186.1 L377.8 1188.1 L378.3 1190.1 L378.8 1192.1 L379.3 1194.1 L379.8 1196.1 L380.4 1198.1 L380.9 1200.1 L381.4 1202.1 L381.9 1204.1 L382.5 1206.1 L383.0 1208.1 L383.5 1210.1 L384.0 1212.2 L384.5 1214.2 L385.1 1216.2 L385.6 1218.2 L386.1 1220.2 L386.6 1222.2 L387.1 1224.2 L387.7 1226.2 L388.2 1228.2 L388.7 1230.2 L389.2 1232.2 L389.7 1234.2 L390.3 1236.2 L390.8 1238.2 L391.3 1240.2 L391.8 1242.2 L392.3 1244.2 L392.9 1246.2 L393.4 1248.2 L393.9 1250.3 L394.4 1252.3 L395.0 1254.3 L395.5 1256.3 L396.0 1258.3 L396.5 1260.3 L397.1 1262.3 L397.6 1264.3 L398.1 1266.3 L398.6 1268.3 L399.2 1270.3 L399.7 1272.3 L400.2 1274.3 L400.7 1276.3 L401.3 1278.3 L401.8 1280.3 L402.3 1282.3 L402.9 1284.3 L403.4 1286.3 L403.9 1288.3 L404.5 1290.3 L405.0 1292.3 L405.6 1294.3 L406.1 1296.3 L406.6 1298.3 L407.2 1300.3 L407.7 1302.3 L408.3 1304.3 L408.8 1306.3 L409.3 1308.3 L409.9 1310.3 L410.4 1312.3 L411.0 1314.3 L411.5 1316.3 L412.1 1318.2 L412.6 1320.2 L413.2 1322.2 L413.8 1324.2 L414.3 1326.2 L414.9 1328.2 L415.4 1330.2 L416.0 1332.2 L416.6 1334.2 L417.1 1336.2 L417.7 1338.2 L418.3 1340.2 L418.8 1342.1 L419.4 1344.1 L420.0 1346.1 L420.5 1348.1 L421.1 1350.1 L421.7 1352.1 L422.3 1354.1 L422.9 1356.1 L423.4 1358.0 L424.0 1360.0 L424.6 1362.0 L425.2 1364.0 L425.8 1366.0 L426.4 1368.0 L427.0 1370.0 L427.6 1371.9 L428.2 1373.9 L428.8 1375.9 L429.4 1377.9 L430.0 1379.9 L430.6 1381.8 L431.2 1383.8 L431.8 1385.8 L432.4 1387.8 L433.0 1389.8 L433.6 1391.7 L434.2 1393.7 L434.8 1395.7 L435.4 1397.7 L436.0 1399.7 L436.7 1401.6 L437.3 1403.6 L437.9 1405.6 L438.5 1407.6 L439.1 1409.5 L439.7 1411.5 L440.4 1413.5 L441.0 1415.5 L441.6 1417.4 L442.2 1419.4 L442.9 1421.4 L443.5 1423.4 L444.1 1425.3 L444.7 1427.3 L445.4 1429.3 L446.0 1431.3 L446.6 1433.2 L447.2 1435.2 L447.9 1437.2 L448.5 1439.2 L449.1 1441.1 L449.8 1443.1 L450.4 1445.1 L451.0 1447.1 L451.6 1449.0 L452.3 1451.0 L452.9 1453.0 L453.5 1454.9 L454.2 1456.9 L454.8 1458.9 L455.4 1460.9 L456.1 1462.8 L456.7 1464.8 L457.3 1466.8 L458.0 1468.8 L458.6 1470.7 L459.2 1472.7 L459.9 1474.7 L460.5 1476.6 L461.1 1478.6 L461.8 1480.6 L462.4 1482.6 L463.0 1484.5 L463.7 1486.5 L464.3 1488.5 L464.9 1490.5 L465.6 1492.4 L466.2 1494.4 L466.8 1496.4 L467.4 1498.3 L468.1 1500.3 L468.7 1502.3 L469.3 1504.3 L470.0 1506.2 L470.6 1508.2 L471.2 1510.2 L471.8 1512.2 L472.5 1514.1 L473.1 1516.1 L473.7 1518.1 L474.4 1520.1 L475.0 1522.0 L475.6 1524.0 L476.2 1526.0 L476.8 1528.0 L477.5 1529.9 L478.1 1531.9 L478.7 1533.9 L479.3 1535.9 L479.9 1537.9 L480.6 1539.8 L481.2 1541.8 L481.8 1543.8 L482.4 1545.8 L483.0 1547.7 L483.6 1549.7 L484.2 1551.7 L484.8 1553.7 L485.4 1555.7 L486.0 1557.6 L486.7 1559.6 L487.3 1561.6 L487.9 1563.6 L488.5 1565.6 L489.1 1567.6 L489.7 1569.5 L490.2 1571.5 L490.8 1573.5 L491.4 1575.5 L492.0 1577.5 L492.6 1579.5 L493.2 1581.4 L493.8 1583.4 L494.4 1585.4 L495.0 1587.4 L495.5 1589.4 L496.1 1591.4 L496.7 1593.4 L497.3 1595.4 L497.9 1597.4 L498.4 1599.3 L499.0 1601.3 L499.6 1603.3 L500.1 1605.3 L500.7 1607.3 L501.3 1609.3 L501.8 1611.3 L502.4 1613.3 L502.9 1615.3 L503.5 1617.3 L504.0 1619.3 L504.6 1621.3 L505.1 1623.3 L505.7 1625.3 L506.2 1627.3 L506.8 1629.3 L507.3 1631.3 L507.9 1633.3 L508.4 1635.3 L508.9 1637.3 L509.4 1639.3 L510.0 1641.3 L510.5 1643.3 L511.0 1645.3 L511.5 1647.3 L512.1 1649.3 L512.6 1651.3 L513.1 1653.3 L513.6 1655.3 L514.1 1657.3 L514.6 1659.3 L515.1 1661.4 L515.6 1663.4 L516.1 1665.4 L516.6 1667.4 L517.1 1669.4 L517.6 1671.4 L518.0 1673.4 L518.5 1675.5 L519.0 1677.5 L519.5 1679.5 L519.9 1681.5 L520.4 1683.5 L520.9 1685.5 L521.3 1687.6 L521.8 1689.6 L522.2 1691.6 L522.7 1693.6 L523.1 1695.7 L523.5 1697.7 L524.0 1699.7 L524.4 1701.7 L524.8 1703.8 L525.3 1705.8 L525.7 1707.8 L526.1 1709.8 L526.5 1711.9 L526.9 1713.9 L527.3 1715.9 L527.7 1718.0 L528.1 1720.0 L528.5 1722.0 L528.9 1724.1 L529.3 1726.1 L529.6 1728.1 L530.0 1730.2 L530.4 1732.2 L530.7 1734.2 L531.1 1736.3 L531.4 1738.3 L531.8 1740.4 L532.1 1742.4 L532.5 1744.4 L532.8 1746.5 L533.1 1748.5 L533.4 1750.6 L533.7 1752.6 L534.1 1754.7 L534.4 1756.7 L534.7 1758.8 L535.0 1760.8 L535.2 1762.8 L535.5 1764.9 L535.8 1766.9 L536.1 1769.0 L536.3 1771.0 L536.6 1773.1 L536.8 1775.2 L537.1 1777.2 L537.3 1779.3 L537.6 1781.3 L537.8 1783.4 L538.0 1785.4 L538.2 1787.5 L538.4 1789.5 L538.7 1791.6 L538.8 1793.7 L539.0 1795.7 L539.2 1797.8 L539.4 1799.8 L539.6 1801.9 L539.7 1804.0 L539.9 1806.0 L540.0 1808.1 L540.2 1810.2 L540.3 1812.2 L540.5 1814.3 L540.6 1816.4 L540.7 1818.4 L540.8 1820.5 L540.9 1822.6 L541.0 1824.6 L541.1 1826.7 L541.2 1828.8 L541.3 1830.9 L541.3 1832.9 L541.4 1835.0 L541.4 1837.1 L541.5 1839.2 L541.5 1841.2 L541.5 1843.3 L541.6 1845.4 L541.6 1847.5 L541.6 1849.5 L541.6 1851.6 L541.6 1853.7 L541.6 1855.8 L541.5 1857.9 L541.5 1860.0 L541.5 1862.0" fill="none" stroke="#00ffff" stroke-width="20" stroke-linecap="round" stroke-linejoin="round"/>
</g>
<g clip-path="url(#cb)">
<circle cx="342.5" cy="2221.3" r="28.0" fill="#0000ff"/><circle cx="332.5" cy="2211.3" r="14.5" fill="#7070ff"/><circle cx="332.5" cy="2211.3" r="9.5" fill="#b4b4ff"/><circle cx="332.5" cy="2211.3" r="4.0" fill="#f8f8ff"/>
<circle cx="359.0" cy="2224.8" r="28.0" fill="#0000ff"/><circle cx="349.0" cy="2214.8" r="14.5" fill="#7070ff"/><circle cx="349.0" cy="2214.8" r="9.5" fill="#b4b4ff"/><circle cx="349.0" cy="2214.8" r="4.0" fill="#f8f8ff"/>
<circle cx="376.1" cy="2292.1" r="28.0" fill="#0000ff"/><circle cx="366.1" cy="2282.1" r="14.5" fill="#7070ff"/><circle cx="366.1" cy="2282.1" r="9.5" fill="#b4b4ff"/><circle cx="366.1" cy="2282.1" r="4.0" fill="#f8f8ff"/>
<circle cx="398.6" cy="2354.2" r="28.0" fill="#0000ff"/><circle cx="388.6" cy="2344.2" r="14.5" fill="#7070ff"/><circle cx="388.6" cy="2344.2" r="9.5" fill="#b4b4ff"/><circle cx="388.6" cy="2344.2" r="4.0" fill="#f8f8ff"/>
<circle cx="424.1" cy="2414.1" r="28.0" fill="#0000ff"/><circle cx="414.1" cy="2404.1" r="14.5" fill="#7070ff"/><circle cx="414.1" cy="2404.1" r="9.5" fill="#b4b4ff"/><circle cx="414.1" cy="2404.1" r="4.0" fill="#f8f8ff"/>
<circle cx="439.6" cy="2488.4" r="28.0" fill="#0000ff"/><circle cx="429.6" cy="2478.4" r="14.5" fill="#7070ff"/><circle cx="429.6" cy="2478.4" r="9.5" fill="#b4b4ff"/><circle cx="429.6" cy="2478.4" r="4.0" fill="#f8f8ff"/>
<circle cx="449.6" cy="2574.7" r="28.0" fill="#0000ff"/><circle cx="439.6" cy="2564.7" r="14.5" fill="#7070ff"/><circle cx="439.6" cy="2564.7" r="9.5" fill="#b4b4ff"/><circle cx="439.6" cy="2564.7" r="4.0" fill="#f8f8ff"/>
<circle cx="458.7" cy="2588.8" r="28.0" fill="#0000ff"/><circle cx="448.7" cy="2578.8" r="14.5" fill="#7070ff"/><circle cx="448.7" cy="2578.8" r="9.5" fill="#b4b4ff"/><circle cx="448.7" cy="2578.8" r="4.0" fill="#f8f8ff"/>
<circle cx="467.7" cy="2661.1" r="28.0" fill="#0000ff"/><circle cx="457.7" cy="2651.1" r="14.5" fill="#7070ff"/><circle cx="457.7" cy="2651.1" r="9.5" fill="#b4b4ff"/><circle cx="457.7" cy="2651.1" r="4.0" fill="#f8f8ff"/>
<circle cx="476.7" cy="2671.1" r="28.0" fill="#0000ff"/><circle cx="466.7" cy="2661.1" r="14.5" fill="#7070ff"/><circle cx="466.7" cy="2661.1" r="9.5" fill="#b4b4ff"/><circle cx="466.7" cy="2661.1" r="4.0" fill="#f8f8ff"/>
<circle cx="468.7" cy="2691.2" r="28.0" fill="#0000ff"/><circle cx="458.7" cy="2681.2" r="14.5" fill="#7070ff"/><circle cx="458.7" cy="2681.2" r="9.5" fill="#b4b4ff"/><circle cx="458.7" cy="2681.2" r="4.0" fill="#f8f8ff"/>
<circle cx="478.7" cy="2687.2" r="28.0" fill="#0000ff"/><circle cx="468.7" cy="2677.2" r="14.5" fill="#7070ff"/><circle cx="468.7" cy="2677.2" r="9.5" fill="#b4b4ff"/><circle cx="468.7" cy="2677.2" r="4.0" fill="#f8f8ff"/>
<circle cx="483.7" cy="2723.3" r="28.0" fill="#0000ff"/><circle cx="473.7" cy="2713.3" r="14.5" fill="#7070ff"/><circle cx="473.7" cy="2713.3" r="9.5" fill="#b4b4ff"/><circle cx="473.7" cy="2713.3" r="4.0" fill="#f8f8ff"/>
<circle cx="492.3" cy="2788.0" r="28.0" fill="#0000ff"/><circle cx="482.3" cy="2778.0" r="14.5" fill="#7070ff"/><circle cx="482.3" cy="2778.0" r="9.5" fill="#b4b4ff"/><circle cx="482.3" cy="2778.0" r="4.0" fill="#f8f8ff"/>
<circle cx="501.2" cy="2793.6" r="28.0" fill="#0000ff"/><circle cx="491.2" cy="2783.6" r="14.5" fill="#7070ff"/><circle cx="491.2" cy="2783.6" r="9.5" fill="#b4b4ff"/><circle cx="491.2" cy="2783.6" r="4.0" fill="#f8f8ff"/>
<circle cx="506.7" cy="2836.4" r="28.0" fill="#0000ff"/><circle cx="496.7" cy="2826.4" r="14.5" fill="#7070ff"/><circle cx="496.7" cy="2826.4" r="9.5" fill="#b4b4ff"/><circle cx="496.7" cy="2826.4" r="4.0" fill="#f8f8ff"/>
<circle cx="513.5" cy="2858.9" r="28.0" fill="#0000ff"/><circle cx="503.5" cy="2848.9" r="14.5" fill="#7070ff"/><circle cx="503.5" cy="2848.9" r="9.5" fill="#b4b4ff"/><circle cx="503.5" cy="2848.9" r="4.0" fill="#f8f8ff"/>
<circle cx="527.2" cy="2879.0" r="28.0" fill="#0000ff"/><circle cx="517.2" cy="2869.0" r="14.5" fill="#7070ff"/><circle cx="517.2" cy="2869.0" r="9.5" fill="#b4b4ff"/><circle cx="517.2" cy="2869.0" r="4.0" fill="#f8f8ff"/>
<circle cx="540.3" cy="2897.5" r="28.0" fill="#0000ff"/><circle cx="530.3" cy="2887.5" r="14.5" fill="#7070ff"/><circle cx="530.3" cy="2887.5" r="9.5" fill="#b4b4ff"/><circle cx="530.3" cy="2887.5" r="4.0" fill="#f8f8ff"/>
<circle cx="550.8" cy="2997.4" r="28.0" fill="#0000ff"/><circle cx="540.8" cy="2987.4" r="14.5" fill="#7070ff"/><circle cx="540.8" cy="2987.4" r="9.5" fill="#b4b4ff"/><circle cx="540.8" cy="2987.4" r="4.0" fill="#f8f8ff"/>
<circle cx="575.4" cy="3009.5" r="28.0" fill="#0000ff"/><circle cx="565.4" cy="2999.5" r="14.5" fill="#7070ff"/><circle cx="565.4" cy="2999.5" r="9.5" fill="#b4b4ff"/><circle cx="565.4" cy="2999.5" r="4.0" fill="#f8f8ff"/>
<circle cx="599.8" cy="3024.6" r="28.0" fill="#0000ff"/><circle cx="589.8" cy="3014.6" r="14.5" fill="#7070ff"/><circle cx="589.8" cy="3014.6" r="9.5" fill="#b4b4ff"/><circle cx="589.8" cy="3014.6" r="4.0" fill="#f8f8ff"/>
<circle cx="628.9" cy="3048.3" r="28.0" fill="#0000ff"/><circle cx="618.9" cy="3038.3" r="14.5" fill="#7070ff"/><circle cx="618.9" cy="3038.3" r="9.5" fill="#b4b4ff"/><circle cx="618.9" cy="3038.3" r="4.0" fill="#f8f8ff"/>
<circle cx="657.3" cy="3058.4" r="28.0" fill="#0000ff"/><circle cx="647.3" cy="3048.4" r="14.5" fill="#7070ff"/><circle cx="647.3" cy="3048.4" r="9.5" fill="#b4b4ff"/><circle cx="647.3" cy="3048.4" r="4.0" fill="#f8f8ff"/>
<circle cx="701.5" cy="3076.8" r="28.0" fill="#0000ff"/><circle cx="691.5" cy="3066.8" r="14.5" fill="#7070ff"/><circle cx="691.5" cy="3066.8" r="9.5" fill="#b4b4ff"/><circle cx="691.5" cy="3066.8" r="4.0" fill="#f8f8ff"/>
<circle cx="736.0" cy="3098.9" r="28.0" fill="#0000ff"/><circle cx="726.0" cy="3088.9" r="14.5" fill="#7070ff"/><circle cx="726.0" cy="3088.9" r="9.5" fill="#b4b4ff"/><circle cx="726.0" cy="3088.9" r="4.0" fill="#f8f8ff"/>
<circle cx="747.0" cy="3092.8" r="28.0" fill="#0000ff"/><circle cx="737.0" cy="3082.8" r="14.5" fill="#7070ff"/><circle cx="737.0" cy="3082.8" r="9.5" fill="#b4b4ff"/><circle cx="737.0" cy="3082.8" r="4.0" fill="#f8f8ff"/>
<circle cx="795.6" cy="3095.8" r="28.0" fill="#0000ff"/><circle cx="785.6" cy="3085.8" r="14.5" fill="#7070ff"/><circle cx="785.6" cy="3085.8" r="9.5" fill="#b4b4ff"/><circle cx="785.6" cy="3085.8" r="4.0" fill="#f8f8ff"/>
<circle cx="795.1" cy="3107.9" r="28.0" fill="#0000ff"/><circle cx="785.1" cy="3097.9" r="14.5" fill="#7070ff"/><circle cx="785.1" cy="3097.9" r="9.5" fill="#b4b4ff"/><circle cx="785.1" cy="3097.9" r="4.0" fill="#f8f8ff"/>
<circle cx="837.1" cy="3118.9" r="28.0" fill="#0000ff"/><circle cx="827.1" cy="3108.9" r="14.5" fill="#7070ff"/><circle cx="827.1" cy="3108.9" r="9.5" fill="#b4b4ff"/><circle cx="827.1" cy="3108.9" r="4.0" fill="#f8f8ff"/>
<circle cx="853.1" cy="3137.0" r="28.0" fill="#0000ff"/><circle cx="843.1" cy="3127.0" r="14.5" fill="#7070ff"/><circle cx="843.1" cy="3127.0" r="9.5" fill="#b4b4ff"/><circle cx="843.1" cy="3127.0" r="4.0" fill="#f8f8ff"/>
<circle cx="928.2" cy="3177.2" r="28.0" fill="#0000ff"/><circle cx="918.2" cy="3167.2" r="14.5" fill="#7070ff"/><circle cx="918.2" cy="3167.2" r="9.5" fill="#b4b4ff"/><circle cx="918.2" cy="3167.2" r="4.0" fill="#f8f8ff"/>
<circle cx="1007.3" cy="3198.3" r="28.0" fill="#0000ff"/><circle cx="997.3" cy="3188.3" r="14.5" fill="#7070ff"/><circle cx="997.3" cy="3188.3" r="9.5" fill="#b4b4ff"/><circle cx="997.3" cy="3188.3" r="4.0" fill="#f8f8ff"/>
<circle cx="1087.8" cy="3227.8" r="28.0" fill="#0000ff"/><circle cx="1077.8" cy="3217.8" r="14.5" fill="#7070ff"/><circle cx="1077.8" cy="3217.8" r="9.5" fill="#b4b4ff"/><circle cx="1077.8" cy="3217.8" r="4.0" fill="#f8f8ff"/>
<circle cx="1173.9" cy="3256.0" r="28.0" fill="#0000ff"/><circle cx="1163.9" cy="3246.0" r="14.5" fill="#7070ff"/><circle cx="1163.9" cy="3246.0" r="9.5" fill="#b4b4ff"/><circle cx="1163.9" cy="3246.0" r="4.0" fill="#f8f8ff"/>
<circle cx="1253.4" cy="3285.9" r="28.0" fill="#0000ff"/><circle cx="1243.4" cy="3275.9" r="14.5" fill="#7070ff"/><circle cx="1243.4" cy="3275.9" r="9.5" fill="#b4b4ff"/><circle cx="1243.4" cy="3275.9" r="4.0" fill="#f8f8ff"/>
<circle cx="1331.7" cy="3276.6" r="28.0" fill="#0000ff"/><circle cx="1321.7" cy="3266.6" r="14.5" fill="#7070ff"/><circle cx="1321.7" cy="3266.6" r="9.5" fill="#b4b4ff"/><circle cx="1321.7" cy="3266.6" r="4.0" fill="#f8f8ff"/>
<circle cx="1421.8" cy="3306.7" r="28.0" fill="#0000ff"/><circle cx="1411.8" cy="3296.7" r="14.5" fill="#7070ff"/><circle cx="1411.8" cy="3296.7" r="9.5" fill="#b4b4ff"/><circle cx="1411.8" cy="3296.7" r="4.0" fill="#f8f8ff"/>
<circle cx="1516.5" cy="3335.8" r="28.0" fill="#0000ff"/><circle cx="1506.5" cy="3325.8" r="14.5" fill="#7070ff"/><circle cx="1506.5" cy="3325.8" r="9.5" fill="#b4b4ff"/><circle cx="1506.5" cy="3325.8" r="4.0" fill="#f8f8ff"/>
<circle cx="1588.6" cy="3345.9" r="28.0" fill="#0000ff"/><circle cx="1578.6" cy="3335.9" r="14.5" fill="#7070ff"/><circle cx="1578.6" cy="3335.9" r="9.5" fill="#b4b4ff"/><circle cx="1578.6" cy="3335.9" r="4.0" fill="#f8f8ff"/>
<circle cx="1664.1" cy="3348.9" r="28.0" fill="#0000ff"/><circle cx="1654.1" cy="3338.9" r="14.5" fill="#7070ff"/><circle cx="1654.1" cy="3338.9" r="9.5" fill="#b4b4ff"/><circle cx="1654.1" cy="3338.9" r="4.0" fill="#f8f8ff"/>
<circle cx="1672.6" cy="3424.2" r="28.0" fill="#0000ff"/><circle cx="1662.6" cy="3414.2" r="14.5" fill="#7070ff"/><circle cx="1662.6" cy="3414.2" r="9.5" fill="#b4b4ff"/><circle cx="1662.6" cy="3414.2" r="4.0" fill="#f8f8ff"/>
<circle cx="1760.3" cy="3483.4" r="28.0" fill="#0000ff"/><circle cx="1750.3" cy="3473.4" r="14.5" fill="#7070ff"/><circle cx="1750.3" cy="3473.4" r="9.5" fill="#b4b4ff"/><circle cx="1750.3" cy="3473.4" r="4.0" fill="#f8f8ff"/>
<circle cx="1853.8" cy="3553.3" r="28.0" fill="#0000ff"/><circle cx="1843.8" cy="3543.3" r="14.5" fill="#7070ff"/><circle cx="1843.8" cy="3543.3" r="9.5" fill="#b4b4ff"/><circle cx="1843.8" cy="3543.3" r="4.0" fill="#f8f8ff"/>
<circle cx="2081.7" cy="3628.0" r="28.0" fill="#0000ff"/><circle cx="2071.7" cy="3618.0" r="14.5" fill="#7070ff"/><circle cx="2071.7" cy="3618.0" r="9.5" fill="#b4b4ff"/><circle cx="2071.7" cy="3618.0" r="4.0" fill="#f8f8ff"/>
<path d="M333.0 2222.5 L335.3 2222.9 L337.4 2223.6 L339.5 2224.4 L341.5 2225.4 L343.3 2226.4 L345.1 2227.7 L346.9 2229.0 L348.5 2230.4 L350.1 2231.8 L351.6 2233.4 L353.1 2235.0 L354.5 2236.7 L355.8 2238.4 L357.1 2240.2 L358.4 2242.0 L359.6 2243.8 L360.8 2245.7 L362.0 2247.6 L363.1 2249.5 L364.2 2251.4 L365.3 2253.4 L366.4 2255.3 L367.5 2257.3 L368.5 2259.2 L369.5 2261.2 L370.6 2263.2 L371.6 2265.1 L372.5 2267.1 L373.5 2269.1 L374.4 2271.1 L375.4 2273.1 L376.3 2275.1 L377.2 2277.1 L378.1 2279.2 L379.0 2281.2 L379.8 2283.2 L380.7 2285.3 L381.5 2287.3 L382.4 2289.3 L383.2 2291.4 L384.0 2293.5 L384.7 2295.5 L385.5 2297.6 L386.3 2299.7 L387.0 2301.7 L387.8 2303.8 L388.5 2305.9 L389.2 2308.0 L389.9 2310.1 L390.6 2312.2 L391.3 2314.3 L392.0 2316.4 L392.7 2318.5 L393.3 2320.6 L394.0 2322.7 L394.6 2324.8 L395.3 2327.0 L395.9 2329.1 L396.5 2331.2 L397.1 2333.4 L397.7 2335.5 L398.3 2337.6 L398.9 2339.8 L399.5 2341.9 L400.1 2344.0 L400.6 2346.2 L401.2 2348.3 L401.7 2350.5 L402.3 2352.6 L402.8 2354.8 L403.4 2356.9 L403.9 2359.1 L404.5 2361.3 L405.0 2363.4 L405.5 2365.6 L406.0 2367.7 L406.6 2369.9 L407.1 2372.1 L407.6 2374.2 L408.1 2376.4 L408.6 2378.5 L409.1 2380.7 L409.6 2382.9 L410.1 2385.0 L410.6 2387.2 L411.1 2389.4 L411.6 2391.5 L412.1 2393.7 L412.6 2395.8 L413.1 2398.0 L413.6 2400.2 L414.1 2402.3 L414.6 2404.5 L415.1 2406.7 L415.6 2408.8 L416.1 2411.0 L416.6 2413.1 L417.1 2415.3 L417.6 2417.4 L418.2 2419.6 L418.7 2421.7 L419.2 2423.9 L419.7 2426.1 L420.2 2428.2 L420.7 2430.4 L421.2 2432.5 L421.7 2434.7 L422.2 2436.8 L422.7 2439.0 L423.2 2441.1 L423.7 2443.3 L424.2 2445.4 L424.7 2447.6 L425.2 2449.7 L425.7 2451.9 L426.2 2454.0 L426.7 2456.2 L427.2 2458.3 L427.7 2460.4 L428.2 2462.6 L428.7 2464.7 L429.2 2466.9 L429.7 2469.0 L430.2 2471.2 L430.7 2473.3 L431.2 2475.5 L431.7 2477.6 L432.2 2479.8 L432.7 2481.9 L433.2 2484.1 L433.7 2486.2 L434.2 2488.3 L434.7 2490.5 L435.2 2492.6 L435.7 2494.8 L436.2 2496.9 L436.7 2499.1 L437.2 2501.2 L437.7 2503.4 L438.2 2505.5 L438.7 2507.7 L439.2 2509.8 L439.6 2512.0 L440.1 2514.1 L440.6 2516.3 L441.1 2518.4 L441.6 2520.6 L442.1 2522.7 L442.6 2524.9 L443.0 2527.0 L443.5 2529.2 L444.0 2531.3 L444.5 2533.5 L444.9 2535.6 L445.4 2537.8 L445.9 2539.9 L446.4 2542.1 L446.8 2544.2 L447.3 2546.4 L447.8 2548.5 L448.2 2550.7 L448.7 2552.9 L449.2 2555.0 L449.6 2557.2 L450.1 2559.3 L450.6 2561.5 L451.0 2563.7 L451.5 2565.8 L451.9 2568.0 L452.4 2570.2 L452.8 2572.3 L453.3 2574.5 L453.7 2576.7 L454.2 2578.8 L454.6 2581.0 L455.1 2583.2 L455.5 2585.3 L455.9 2587.5 L456.4 2589.7 L456.8 2591.8 L457.3 2594.0 L457.7 2596.2 L458.1 2598.3 L458.6 2600.5 L459.0 2602.7 L459.5 2604.9 L459.9 2607.0 L460.3 2609.2 L460.8 2611.4 L461.2 2613.6 L461.6 2615.7 L462.0 2617.9 L462.5 2620.1 L462.9 2622.3 L463.3 2624.5 L463.8 2626.6 L464.2 2628.8 L464.6 2631.0 L465.1 2633.2 L465.5 2635.3 L465.9 2637.5 L466.3 2639.7 L466.8 2641.9 L467.2 2644.1 L467.6 2646.2 L468.1 2648.4 L468.5 2650.6 L468.9 2652.8 L469.3 2655.0 L469.8 2657.1 L470.2 2659.3 L470.6 2661.5 L471.1 2663.7 L471.5 2665.9 L471.9 2668.0 L472.3 2670.2 L472.8 2672.4 L473.2 2674.6 L473.6 2676.8 L474.1 2678.9 L474.5 2681.1 L474.9 2683.3 L475.4 2685.5 L475.8 2687.7 L476.3 2689.8 L476.7 2692.0 L477.1 2694.2 L477.6 2696.4 L478.0 2698.6 L478.5 2700.7 L478.9 2702.9 L479.3 2705.1 L479.8 2707.3 L480.2 2709.5 L480.7 2711.6 L481.1 2713.8 L481.6 2716.0 L482.0 2718.2 L482.5 2720.3 L482.9 2722.5 L483.4 2724.7 L483.9 2726.9 L484.3 2729.0 L484.8 2731.2 L485.2 2733.4 L485.7 2735.5 L486.2 2737.7 L486.6 2739.9 L487.1 2742.1 L487.6 2744.2 L488.0 2746.4 L488.5 2748.6 L489.0 2750.7 L489.5 2752.9 L490.0 2755.1 L490.4 2757.2 L490.9 2759.4 L491.4 2761.6 L491.9 2763.7 L492.4 2765.9 L492.9 2768.1 L493.4 2770.2 L493.9 2772.4 L494.4 2774.5 L494.9 2776.7 L495.4 2778.9 L495.9 2781.0 L496.4 2783.2 L496.9 2785.3 L497.4 2787.5 L498.0 2789.6 L498.5 2791.8 L499.0 2793.9 L499.5 2796.1 L500.1 2798.2 L500.6 2800.4 L501.1 2802.5 L501.7 2804.7 L502.2 2806.8 L502.8 2809.0 L503.3 2811.1 L503.9 2813.3 L504.4 2815.4 L505.0 2817.5 L505.6 2819.7 L506.1 2821.8 L506.7 2824.0 L507.3 2826.1 L507.8 2828.2 L508.4 2830.4 L509.0 2832.5 L509.6 2834.6 L510.2 2836.8 L510.8 2838.9 L511.4 2841.0 L512.0 2843.1 L512.6 2845.3 L513.2 2847.4 L513.8 2849.5 L514.4 2851.6 L515.0 2853.7 L515.7 2855.9 L516.3 2858.0 L516.9 2860.1 L517.6 2862.2 L518.2 2864.3 L518.8 2866.4 L519.5 2868.5 L520.1 2870.6 L520.8 2872.7 L521.5 2874.8 L522.1 2876.9 L522.8 2879.0 L523.5 2881.1 L524.2 2883.2 L524.8 2885.3 L525.5 2887.4 L526.2 2889.5 L526.9 2891.6 L527.6 2893.7 L528.3 2895.8 L529.0 2897.9 L529.8 2899.9 L530.5 2902.0 L531.2 2904.1 L532.0 2906.2 L532.7 2908.3 L533.4 2910.3 L534.2 2912.4 L534.9 2914.5 L535.7 2916.5 L536.5 2918.6 L537.2 2920.7 L538.0 2922.7 L538.8 2924.8 L539.6 2926.8 L540.4 2928.9 L541.2 2931.0 L542.0 2933.0 L542.8 2935.1 L543.6 2937.1 L544.4 2939.1 L545.2 2941.2 L546.0 2943.2 L546.9 2945.3 L547.7 2947.3 L548.6 2949.3 L549.4 2951.4 L550.3 2953.4 L551.2 2955.4 L552.0 2957.5 L552.9 2959.5 L553.8 2961.5 L554.7 2963.5 L555.6 2965.5 L556.5 2967.6 L557.4 2969.6 L558.3 2971.6 L559.2 2973.6 L560.1 2975.6 L561.1 2977.6 L562.0 2979.6 L563.0 2981.6 L563.9 2983.6 L564.9 2985.6 L565.8 2987.6 L566.8 2989.5 L567.8 2991.5 L568.8 2993.5 L569.8 2995.5 L570.8 2997.5 L571.8 2999.4 L572.8 3001.4 L573.8 3003.4 L574.8 3005.4 L575.9 3007.3 L576.9 3009.3 L578.0 3011.2 L579.0 3013.2 L580.1 3015.1 L581.2 3017.1 L582.2 3019.0 L583.3 3021.0 L584.4 3022.9 L585.5 3024.9 L586.6 3026.8 L587.7 3028.7 L588.9 3030.7 L590.0 3032.6 L591.1 3034.5 L592.3 3036.4 L593.4 3038.4 L594.6 3040.3 L595.8 3042.2 L596.9 3044.1 L598.1 3046.0 L599.3 3047.9 L600.5 3049.8 L601.7 3051.7 L610.4 3060.3 L611.9 3060.6 L613.5 3060.8 L615.0 3061.0 L616.5 3061.2 L618.0 3061.5 L619.6 3061.7 L621.1 3061.9 L622.6 3062.2 L624.1 3062.4 L625.6 3062.7 L627.2 3062.9 L628.7 3063.1 L630.2 3063.4 L631.7 3063.7 L633.2 3063.9 L634.8 3064.2 L636.3 3064.4 L637.8 3064.7 L639.3 3065.0 L640.8 3065.3 L642.4 3065.5 L643.9 3065.8 L645.4 3066.1 L646.9 3066.4 L648.4 3066.7 L649.9 3067.0 L651.5 3067.2 L653.0 3067.5 L654.5 3067.8 L656.0 3068.1 L657.5 3068.4 L659.0 3068.7 L660.5 3069.0 L662.1 3069.3 L663.6 3069.7 L665.1 3070.0 L666.6 3070.3 L668.1 3070.6 L669.6 3070.9 L671.1 3071.2 L672.6 3071.6 L674.1 3071.9 L675.7 3072.2 L677.2 3072.6 L678.7 3072.9 L680.2 3073.2 L681.7 3073.6 L683.2 3073.9 L684.7 3074.2 L686.2 3074.6 L687.7 3074.9 L689.2 3075.3 L690.7 3075.6 L692.2 3076.0 L693.7 3076.3 L695.2 3076.7 L696.7 3077.0 L698.2 3077.4 L699.8 3077.7 L701.3 3078.1 L702.8 3078.5 L704.3 3078.8 L705.8 3079.2 L707.3 3079.5 L708.8 3079.9 L710.3 3080.3 L711.8 3080.7 L713.3 3081.0 L714.8 3081.4 L716.3 3081.8 L717.8 3082.2 L719.3 3082.5 L720.8 3082.9 L722.3 3083.3 L723.7 3083.7 L725.2 3084.1 L726.7 3084.5 L728.2 3084.9 L729.7 3085.3 L731.2 3085.7 L732.7 3086.0 L734.2 3086.4 L735.7 3086.8 L737.2 3087.3 L738.7 3087.7 L740.2 3088.1 L741.7 3088.5 L743.2 3088.9 L744.6 3089.3 L746.1 3089.7 L747.6 3090.1 L749.1 3090.5 L750.6 3091.0 L752.1 3091.4 L753.6 3091.8 L755.0 3092.2 L756.5 3092.7 L758.0 3093.1 L759.5 3093.5 L761.0 3094.0 L762.5 3094.4 L763.9 3094.8 L765.4 3095.3 L766.9 3095.7 L768.4 3096.2 L769.9 3096.6 L771.3 3097.1 L772.8 3097.5 L774.3 3098.0 L775.8 3098.4 L777.2 3098.9 L778.7 3099.3 L780.2 3099.8 L781.7 3100.3 L783.1 3100.7 L784.6 3101.2 L786.1 3101.7 L787.5 3102.1 L789.0 3102.6 L790.5 3103.1 L791.9 3103.6 L793.4 3104.0 L794.9 3104.5 L796.3 3105.0 L797.8 3105.5 L799.3 3106.0 L800.7 3106.5 L802.2 3107.0 L803.7 3107.5 L805.1 3108.0 L806.6 3108.5 L808.0 3109.0 L809.5 3109.5 L810.9 3110.0 L812.4 3110.5 L813.9 3111.0 L815.3 3111.5 L816.8 3112.1 L818.2 3112.6 L819.7 3113.1 L821.1 3113.6 L822.6 3114.1 L824.0 3114.7 L825.5 3115.2 L826.9 3115.7 L828.4 3116.2 L829.8 3116.8 L831.3 3117.3 L832.7 3117.8 L834.2 3118.4 L835.6 3118.9 L837.1 3119.4 L838.5 3120.0 L840.0 3120.5 L841.4 3121.1 L842.9 3121.6 L844.3 3122.2 L845.7 3122.7 L847.2 3123.2 L848.6 3123.8 L850.1 3124.3 L851.5 3124.9 L853.0 3125.4 L854.4 3126.0 L855.8 3126.5 L857.3 3127.1 L858.7 3127.6 L860.2 3128.2 L861.6 3128.8 L863.1 3129.3 L864.5 3129.9 L865.9 3130.4 L867.4 3131.0 L868.8 3131.5 L870.3 3132.1 L871.7 3132.6 L873.1 3133.2 L874.6 3133.8 L876.0 3134.3 L877.5 3134.9 L878.9 3135.4 L880.3 3136.0 L881.8 3136.6 L883.2 3137.1 L884.6 3137.7 L886.1 3138.2 L887.5 3138.8 L889.0 3139.3 L890.4 3139.9 L891.8 3140.5 L893.3 3141.0 L894.7 3141.6 L896.2 3142.1 L897.6 3142.7 L899.0 3143.2 L900.5 3143.8 L901.9 3144.4 L903.4 3144.9 L904.8 3145.5 L906.2 3146.0 L907.7 3146.6 L909.1 3147.1 L910.6 3147.7 L912.0 3148.2 L913.5 3148.8 L914.9 3149.3 L916.3 3149.9 L917.8 3150.4 L919.2 3151.0 L920.7 3151.5 L922.1 3152.1 L923.6 3152.6 L925.0 3153.2 L926.4 3153.7 L927.9 3154.3 L929.3 3154.8 L930.8 3155.4 L932.2 3155.9 L933.7 3156.4 L935.1 3157.0 L936.5 3157.5 L938.0 3158.1 L939.4 3158.6 L940.9 3159.2 L942.3 3159.7 L943.8 3160.2 L945.2 3160.8 L946.7 3161.3 L948.1 3161.9 L949.5 3162.4 L951.0 3162.9 L952.4 3163.5 L953.9 3164.0 L955.3 3164.6 L956.8 3165.1 L958.2 3165.6 L959.7 3166.2 L961.1 3166.7 L962.6 3167.2 L964.0 3167.8 L965.5 3168.3 L966.9 3168.8 L968.4 3169.4 L969.8 3169.9 L971.2 3170.4 L972.7 3171.0 L974.1 3171.5 L975.6 3172.0 L977.0 3172.6 L978.5 3173.1 L979.9 3173.6 L981.4 3174.2 L982.8 3174.7 L984.3 3175.2 L985.7 3175.8 L987.2 3176.3 L988.6 3176.8 L990.1 3177.3 L991.5 3177.9 L993.0 3178.4 L994.4 3178.9 L995.9 3179.5 L997.3 3180.0 L998.8 3180.5 L1000.2 3181.0 L1001.7 3181.6 L1003.1 3182.1 L1004.6 3182.6 L1006.0 3183.1 L1007.5 3183.7 L1008.9 3184.2 L1010.4 3184.7 L1011.8 3185.2 L1013.3 3185.8 L1014.7 3186.3 L1016.2 3186.8 L1017.6 3187.3 L1019.1 3187.8 L1020.5 3188.4 L1022.0 3188.9 L1023.5 3189.4 L1024.9 3189.9 L1026.4 3190.4 L1027.8 3191.0 L1029.3 3191.5 L1030.7 3192.0 L1032.2 3192.5 L1033.6 3193.0 L1035.1 3193.5 L1036.5 3194.1 L1038.0 3194.6 L1039.4 3195.1 L1040.9 3195.6 L1042.3 3196.1 L1043.8 3196.6 L1045.2 3197.2 L1046.7 3197.7 L1048.2 3198.2 L1049.6 3198.7 L1051.1 3199.2 L1052.5 3199.7 L1054.0 3200.2 L1055.4 3200.8 L1056.9 3201.3 L1058.3 3201.8 L1059.8 3202.3 L1061.2 3202.8 L1062.7 3203.3 L1064.2 3203.8 L1065.6 3204.3 L1067.1 3204.9 L1068.5 3205.4 L1070.0 3205.9 L1071.4 3206.4 L1072.9 3206.9 L1074.3 3207.4 L1075.8 3207.9 L1077.3 3208.4 L1078.7 3208.9 L1080.2 3209.4 L1081.6 3209.9 L1083.1 3210.5 L1084.5 3211.0 L1086.0 3211.5 L1087.5 3212.0 L1088.9 3212.5 L1090.4 3213.0 L1091.8 3213.5 L1093.3 3214.0 L1094.7 3214.5 L1096.2 3215.0 L1097.7 3215.5 L1099.1 3216.0 L1100.6 3216.5 L1102.0 3217.0 L1103.5 3217.5 L1104.9 3218.0 L1106.4 3218.5 L1107.9 3219.1 L1109.3 3219.6 L1110.8 3220.1 L1112.2 3220.6 L1113.7 3221.1 L1115.1 3221.6 L1116.6 3222.1 L1118.1 3222.6 L1119.5 3223.1 L1121.0 3223.6 L1122.4 3224.1 L1123.9 3224.6 L1125.4 3225.1 L1126.8 3225.6 L1128.3 3226.1 L1129.7 3226.6 L1131.2 3227.1 L1132.7 3227.6 L1134.1 3228.1 L1135.6 3228.6 L1137.0 3229.1 L1138.5 3229.6 L1140.0 3230.1 L1141.4 3230.6 L1142.9 3231.1 L1144.3 3231.6 L1145.8 3232.1 L1147.3 3232.6 L1148.7 3233.1 L1150.2 3233.6 L1151.6 3234.1 L1153.1 3234.6 L1154.6 3235.1 L1156.0 3235.6 L1157.5 3236.1 L1158.9 3236.5 L1160.4 3237.0 L1161.9 3237.5 L1163.3 3238.0 L1164.8 3238.5 L1166.2 3239.0 L1167.7 3239.5 L1169.2 3240.0 L1170.6 3240.5 L1172.1 3241.0 L1173.5 3241.5 L1175.0 3242.0 L1176.5 3242.5 L1177.9 3243.0 L1179.4 3243.5 L1180.8 3244.0 L1182.3 3244.5 L1183.8 3245.0 L1185.2 3245.5 L1186.7 3246.0 L1188.2 3246.4 L1189.6 3246.9 L1191.1 3247.4 L1192.5 3247.9 L1194.0 3248.4 L1195.5 3248.9 L1196.9 3249.4 L1198.4 3249.9 L1199.8 3250.4 L1201.3 3250.9 L1202.8 3251.4 L1204.2 3251.9 L1205.7 3252.4 L1207.2 3252.9 L1208.6 3253.3 L1210.1 3253.8 L1211.5 3254.3 L1213.0 3254.8 L1214.5 3255.3 L1215.9 3255.8 L1217.4 3256.3 L1218.9 3256.8 L1220.3 3257.3 L1221.8 3257.8 L1223.2 3258.3 L1224.7 3258.8 L1226.2 3259.2 L1227.6 3259.7 L1229.1 3260.2 L1230.6 3260.7 L1232.0 3261.2 L1233.5 3261.7 L1235.0 3262.2 L1236.4 3262.7 L1237.9 3263.2 L1239.3 3263.7 L1240.8 3264.1 L1242.3 3264.6 L1243.7 3265.1 L1245.2 3265.6 L1246.7 3266.1 L1248.1 3266.6 L1249.6 3267.1 L1251.0 3267.6 L1252.5 3268.1 L1254.0 3268.6 L1255.4 3269.0 L1256.9 3269.5 L1258.4 3270.0 L1259.8 3270.5 L1261.3 3271.0 L1262.8 3271.5 L1264.2 3272.0 L1265.7 3272.5 L1267.1 3273.0 L1268.6 3273.4 L1270.1 3273.9 L1271.5 3274.4 L1273.0 3274.9 L1274.5 3275.4 L1275.9 3275.9 L1277.4 3276.4 L1278.9 3276.9 L1280.3 3277.4 L1281.8 3277.8 L1283.2 3278.3 L1284.7 3278.8 L1286.2 3279.3 L1287.6 3279.8 L1289.1 3280.3 L1290.6 3280.8 L1292.0 3281.3 L1293.5 3281.8 L1295.0 3282.2 L1296.4 3282.7 L1297.9 3283.2 L1299.3 3283.7 L1300.8 3284.2 L1302.3 3284.7 L1303.7 3285.2 L1305.2 3285.7 L1306.7 3286.2 L1308.1 3286.6 L1309.6 3287.1 L1311.1 3287.6 L1312.5 3288.1 L1314.0 3288.6 L1315.5 3289.1 L1316.9 3289.6 L1318.4 3290.1 L1319.8 3290.6 L1321.3 3291.1 L1322.8 3291.5 L1324.2 3292.0 L1325.7 3292.5 L1327.2 3293.0 L1328.6 3293.5 L1330.1 3294.0 L1331.6 3294.5 L1333.0 3295.0 L1334.5 3295.5 L1335.9 3295.9 L1337.4 3296.4 L1338.9 3296.9 L1340.3 3297.4 L1341.8 3297.9 L1343.3 3298.4 L1344.7 3298.9 L1346.2 3299.4 L1347.7 3299.9 L1349.1 3300.4 L1350.6 3300.8 L1352.1 3301.3 L1353.5 3301.8 L1355.0 3302.3 L1356.4 3302.8 L1357.9 3303.3 L1359.4 3303.8 L1360.8 3304.3 L1362.3 3304.8 L1363.8 3305.3 L1365.2 3305.8 L1366.7 3306.2 L1368.2 3306.7 L1369.6 3307.2 L1371.1 3307.7 L1372.5 3308.2 L1374.0 3308.7 L1375.5 3309.2 L1376.9 3309.7 L1378.4 3310.2 L1379.9 3310.7 L1381.3 3311.2 L1382.8 3311.7 L1384.3 3312.1 L1385.7 3312.6 L1387.2 3313.1 L1388.6 3313.6 L1390.1 3314.1 L1391.6 3314.6 L1393.0 3315.1 L1394.5 3315.6 L1396.0 3316.1 L1397.4 3316.6 L1398.9 3317.1 L1400.4 3317.6 L1401.8 3318.1 L1403.3 3318.6 L1404.7 3319.0 L1406.2 3319.5 L1407.7 3320.0 L1409.1 3320.5 L1410.6 3321.0 L1412.1 3321.5 L1413.5 3322.0 L1415.0 3322.5 L1416.4 3323.0 L1417.9 3323.5 L1419.4 3324.0 L1420.8 3324.5 L1422.3 3325.0 L1423.8 3325.5 L1425.2 3326.0 L1426.7 3326.5 L1428.1 3327.0 L1429.6 3327.5 L1431.1 3328.0 L1432.5 3328.5 L1434.0 3329.0 L1435.5 3329.5 L1436.9 3330.0 L1438.4 3330.5 L1439.8 3331.0 L1441.3 3331.4 L1442.8 3331.9 L1444.2 3332.4 L1445.7 3332.9 L1447.2 3333.4 L1448.6 3333.9 L1450.1 3334.4 L1451.5 3334.9 L1453.0 3335.4 L1454.5 3335.9 L1455.9 3336.4 L1457.4 3336.9 L1458.8 3337.4 L1460.3 3337.9 L1461.8 3338.4 L1463.2 3338.9 L1464.7 3339.4 L1466.2 3339.9 L1467.6 3340.4 L1469.1 3341.0 L1470.5 3341.5 L1472.0 3342.0 L1473.5 3342.5 L1474.9 3343.0 L1476.4 3343.5 L1477.8 3344.0 L1479.3 3344.5 L1480.8 3345.0 L1482.2 3345.5 L1483.7 3346.0 L1485.1 3346.5 L1486.6 3347.0 L1488.1 3347.5 L1489.5 3348.0 L1491.0 3348.5 L1492.4 3349.0 L1493.9 3349.5 L1495.4 3350.0 L1496.8 3350.5 L1498.3 3351.0 L1499.7 3351.5 L1501.2 3352.1 L1502.7 3352.6 L1504.1 3353.1 L1505.6 3353.6 L1507.0 3354.1 L1508.5 3354.6 L1510.0 3355.1 L1511.4 3355.6 L1512.9 3356.1 L1514.3 3356.6 L1515.8 3357.1 L1517.3 3357.6 L1518.7 3358.2 L1520.2 3358.7 L1521.6 3359.2 L1523.1 3359.7 L1524.6 3360.2 L1526.0 3360.7 L1527.5 3361.2 L1528.9 3361.7 L1530.4 3362.3 L1531.8 3362.8 L1533.3 3363.3 L1534.8 3363.8 L1536.2 3364.3 L1537.7 3364.8 L1539.1 3365.3 L1540.6 3365.8 L1542.1 3366.4 L1543.5 3366.9 L1545.0 3367.4 L1546.4 3367.9 L1547.9 3368.4 L1549.3 3368.9 L1550.8 3369.5 L1552.3 3370.0 L1553.7 3370.5 L1555.2 3371.0 L1556.6 3371.5 L1558.1 3372.0 L1559.5 3372.6 L1561.0 3373.1 L1562.4 3373.6 L1563.9 3374.1 L1565.4 3374.6 L1566.8 3375.2 L1568.3 3375.7 L1569.7 3376.2 L1571.2 3376.7 L1572.6 3377.3 L1574.1 3377.8 L1575.6 3378.3 L1577.0 3378.8 L1578.5 3379.3 L1579.9 3379.9 L1581.4 3380.4 L1582.8 3380.9 L1584.3 3381.4 L1585.7 3382.0 L1587.2 3382.5 L1588.6 3383.0 L1590.1 3383.5 L1591.6 3384.1 L1593.0 3384.6 L1594.5 3385.1 L1595.9 3385.7 L1597.4 3386.2 L1598.8 3386.7 L1600.3 3387.2 L1601.7 3387.8 L1603.2 3388.3 L1604.6 3388.8 L1606.1 3389.4 L1607.5 3389.9 L1609.0 3390.4 L1610.5 3391.0 L1611.9 3391.5 L1613.4 3392.0 L1614.8 3392.5 L1616.3 3393.1 L1617.7 3393.6 L1619.2 3394.2 L1620.6 3394.7 L1622.1 3395.2 L1623.5 3395.8 L1625.0 3396.3 L1626.4 3396.8 L1627.9 3397.4 L1629.3 3397.9 L1630.8 3398.4 L1632.2 3399.0 L1633.7 3399.5 L1635.1 3400.1 L1636.6 3400.6 L1638.0 3401.1 L1639.5 3401.7 L1640.9 3402.2 L1642.4 3402.8 L1643.8 3403.3 L1645.3 3403.9 L1646.7 3404.4 L1648.2 3404.9 L1649.6 3405.5 L1651.1 3406.0 L1652.5 3406.6 L1654.0 3407.1 L1655.4 3407.7 L1656.8 3408.2 L1658.3 3408.8 L1659.7 3409.3 L1661.2 3409.9 L1662.6 3410.4 L1664.1 3411.0 L1665.5 3411.5 L1667.0 3412.1 L1668.4 3412.6 L1669.9 3413.2 L1671.3 3413.8 L1672.7 3414.3 L1674.2 3414.9 L1675.6 3415.4 L1677.1 3416.0 L1678.5 3416.5 L1679.9 3417.1 L1681.4 3417.7 L1682.8 3418.2 L1684.3 3418.8 L1685.7 3419.4 L1687.2 3419.9 L1688.6 3420.5 L1690.0 3421.0 L1691.5 3421.6 L1692.9 3422.2 L1694.3 3422.7 L1695.8 3423.3 L1697.2 3423.9 L1698.7 3424.5 L1700.1 3425.0 L1701.5 3425.6 L1703.0 3426.2 L1704.4 3426.8 L1705.8 3427.3 L1707.3 3427.9 L1708.7 3428.5 L1710.1 3429.1 L1711.6 3429.6 L1713.0 3430.2 L1714.4 3430.8 L1715.9 3431.4 L1717.3 3432.0 L1718.7 3432.5 L1720.2 3433.1 L1721.6 3433.7 L1723.0 3434.3 L1724.4 3434.9 L1725.9 3435.5 L1727.3 3436.1 L1728.7 3436.6 L1730.1 3437.2 L1731.6 3437.8 L1733.0 3438.4 L1734.4 3439.0 L1735.8 3439.6 L1737.3 3440.2 L1738.7 3440.8 L1740.1 3441.4 L1741.5 3442.0 L1743.0 3442.6 L1744.4 3443.2 L1745.8 3443.8 L1747.2 3444.4 L1748.6 3445.0 L1750.1 3445.6 L1751.5 3446.2 L1752.9 3446.8 L1754.3 3447.4 L1755.7 3448.1 L1757.2 3448.7 L1758.6 3449.3 L1760.0 3449.9 L1761.4 3450.5 L1762.8 3451.1 L1764.2 3451.7 L1765.6 3452.4 L1767.0 3453.0 L1768.5 3453.6 L1769.9 3454.2 L1771.3 3454.8 L1772.7 3455.5 L1774.1 3456.1 L1775.5 3456.7 L1776.9 3457.3 L1778.3 3458.0 L1779.7 3458.6 L1781.1 3459.2 L1782.5 3459.9 L1783.9 3460.5 L1785.3 3461.1 L1786.7 3461.8 L1788.2 3462.4 L1789.6 3463.1 L1791.0 3463.7 L1792.4 3464.3 L1793.8 3465.0 L1795.2 3465.6 L1796.6 3466.3 L1797.9 3466.9 L1799.3 3467.6 L1800.7 3468.2 L1802.1 3468.9 L1803.5 3469.5 L1804.9 3470.2 L1806.3 3470.8 L1807.7 3471.5 L1809.1 3472.1 L1810.5 3472.8 L1811.9 3473.5 L1813.3 3474.1 L1814.7 3474.8 L1816.1 3475.5 L1817.4 3476.1 L1818.8 3476.8 L1820.2 3477.5 L1821.6 3478.1 L1823.0 3478.8 L1824.4 3479.5 L1825.7 3480.2 L1827.1 3480.8 L1828.5 3481.5 L1829.9 3482.2 L1831.3 3482.9 L1832.6 3483.6 L1834.0 3484.2 L1835.4 3484.9 L1836.8 3485.6 L1838.1 3486.3 L1839.5 3487.0 L1840.9 3487.7 L1842.3 3488.4 L1843.6 3489.1 L1845.0 3489.8 L1846.4 3490.5 L1847.7 3491.2 L1849.1 3491.9 L1850.5 3492.6 L1851.9 3493.3 L1853.2 3494.0 L1854.6 3494.7 L1855.9 3495.4 L1857.3 3496.1 L1858.7 3496.8 L1860.0 3497.5 L1861.4 3498.3 L1862.7 3499.0 L1864.1 3499.7 L1865.5 3500.4 L1866.8 3501.1 L1868.2 3501.9 L1869.5 3502.6 L1870.9 3503.3 L1872.2 3504.0 L1873.6 3504.8 L1874.9 3505.5 L1876.3 3506.2 L1877.6 3507.0 L1879.0 3507.7 L1880.3 3508.5 L1881.7 3509.2 L1883.0 3509.9 L1884.4 3510.7 L1885.7 3511.4 L1887.1 3512.2 L1888.4 3512.9 L1889.7 3513.7 L1891.1 3514.4 L1892.4 3515.2 L1893.7 3516.0 L1895.1 3516.7 L1896.4 3517.5 L1897.8 3518.2 L1899.1 3519.0 L1900.4 3519.8 L1901.7 3520.5 L1903.1 3521.3 L1904.4 3522.1 L1905.7 3522.9 L1907.1 3523.6 L1908.4 3524.4 L1909.7 3525.2 L1911.0 3526.0 L1912.4 3526.8 L1913.7 3527.5 L1915.0 3528.3 L1916.3 3529.1 L1917.6 3529.9 L1919.0 3530.7 L1920.3 3531.5 L1921.6 3532.3 L1922.9 3533.1 L1924.2 3533.9 L1925.5 3534.7 L1926.8 3535.5 L1928.1 3536.3 L1929.4 3537.1 L1930.8 3537.9 L1932.1 3538.8 L1933.4 3539.6 L1934.7 3540.4 L1936.0 3541.2 L1937.3 3542.0 L1938.6 3542.8 L1939.9 3543.7 L1941.2 3544.5 L1942.5 3545.3 L1943.8 3546.2 L1945.0 3547.0 L1946.3 3547.8 L1947.6 3548.7 L1948.9 3549.5 L1950.2 3550.4 L1951.5 3551.2 L1952.8 3552.0 L1954.1 3552.9 L1955.4 3553.8 L1956.6 3554.6 L1957.9 3555.5 L1959.2 3556.3 L1960.5 3557.2 L1961.8 3558.0 L1963.0 3558.9 L1964.3 3559.8 L1965.6 3560.6 L1966.9 3561.5 L1968.1 3562.4 L1969.4 3563.3 L1970.7 3564.1 L1971.9 3565.0 L1973.2 3565.9 L1974.5 3566.8 L1975.7 3567.7 L1977.0 3568.6 L1978.3 3569.4 L1979.5 3570.3 L1980.8 3571.2 L1982.0 3572.1 L1983.3 3573.0 L1984.5 3573.9 L1985.8 3574.8 L1987.0 3575.7 L1988.3 3576.7 L1989.5 3577.6 L1990.8 3578.5 L1992.0 3579.4 L1993.3 3580.3 L1994.5 3581.2 L1995.8 3582.2 L1997.0 3583.1 L1998.3 3584.0 L1999.5 3585.0 L2000.7 3585.9 L2002.0 3586.8 L2003.2 3587.8 L2004.4 3588.7 L2005.7 3589.6 L2006.9 3590.6 L2008.1 3591.5 L2009.4 3592.5 L2010.6 3593.4 L2011.8 3594.4 L2013.0 3595.3 L2014.2 3596.3 L2015.5 3597.3 L2016.7 3598.2 L2017.9 3599.2 L2019.1 3600.2 L2020.3 3601.1 L2021.5 3602.1 L2022.8 3603.1 L2024.0 3604.1 L2025.2 3605.1 L2026.4 3606.0 L2027.6 3607.0 L2028.8 3608.0 L2030.0 3609.0 L2031.2 3610.0 L2032.4 3611.0 L2033.6 3612.0 L2034.8 3613.0 L2036.0 3614.0 L2037.2 3615.0 L2038.4 3616.0 L2039.6 3617.1 L2040.8 3618.1 L2041.9 3619.1 L2043.1 3620.1 L2044.3 3621.1 L2045.5 3622.2 L2046.7 3623.2 L2047.9 3624.2 L2049.0 3625.3 L2050.2 3626.3 L2051.4 3627.3 L2052.6 3628.4 L2053.7 3629.4 L2054.9 3630.5 L2056.1 3631.5 L2057.2 3632.6 L2058.4 3633.6 L2059.6 3634.7 L2060.7 3635.8 L2061.9 3636.8 L2063.1 3637.9" fill="none" stroke="#ff0000" stroke-width="20" stroke-linecap="round" stroke-linejoin="round"/>
<path d="M333.0 3052.6 L333.0 3052.6 L334.6 3052.6 L336.1 3052.7 L337.6 3052.7 L339.2 3052.7 L340.7 3052.8 L342.3 3052.8 L343.8 3052.8 L345.3 3052.8 L346.9 3052.9 L348.4 3052.9 L350.0 3052.9 L351.5 3052.9 L353.0 3052.9 L354.6 3053.0 L356.1 3053.0 L357.7 3053.0 L359.2 3053.0 L360.8 3053.0 L362.3 3053.0 L363.8 3053.0 L365.4 3053.0 L366.9 3053.0 L368.5 3053.0 L370.0 3053.1 L371.6 3053.1 L373.1 3053.1 L374.5 3053.1" fill="none" stroke="#ffff00" stroke-width="16" stroke-linecap="round" stroke-linejoin="round"/>
<path d="M446.0 3052.5 L447.3 3052.5 L448.8 3052.5 L450.4 3052.5 L451.9 3052.5 L453.5 3052.4 L455.0 3052.4 L456.6 3052.4 L458.1 3052.4 L459.7 3052.4 L461.2 3052.4 L462.8 3052.4 L464.3 3052.4 L465.8 3052.4 L467.4 3052.4 L468.9 3052.4 L470.5 3052.4 L472.0 3052.4 L473.6 3052.4 L475.1 3052.4 L476.7 3052.4 L478.2 3052.4 L479.8 3052.4 L481.3 3052.4 L482.9 3052.4 L484.4 3052.4 L485.9 3052.4 L487.5 3052.4 L487.8 3052.4" fill="none" stroke="#ffff00" stroke-width="16" stroke-linecap="round" stroke-linejoin="round"/>
<path d="M557.4 3054.8 L558.4 3054.9 L559.9 3055.0 L561.4 3055.1 L563.0 3055.2 L564.5 3055.3 L566.0 3055.4 L567.6 3055.6 L569.1 3055.7 L570.7 3055.8 L572.2 3056.0 L573.7 3056.1 L575.2 3056.2 L576.8 3056.4 L578.3 3056.5 L579.8 3056.7 L581.4 3056.8 L582.9 3057.0 L584.4 3057.1 L586.0 3057.3 L587.5 3057.5 L589.0 3057.6 L590.6 3057.8 L592.1 3058.0 L593.6 3058.1 L595.1 3058.3 L596.7 3058.5 L598.2 3058.7 L599.7 3058.9" fill="none" stroke="#ffff00" stroke-width="16" stroke-linecap="round" stroke-linejoin="round"/>
<path d="M663.4 3069.6 L663.6 3069.7 L665.1 3070.0 L666.6 3070.3 L668.1 3070.6 L669.6 3070.9 L671.1 3071.2 L672.6 3071.6 L674.1 3071.9 L675.7 3072.2 L677.2 3072.6 L678.7 3072.9 L680.2 3073.2 L681.7 3073.6 L683.2 3073.9 L684.7 3074.2 L686.2 3074.6 L687.7 3074.9 L689.2 3075.3 L690.7 3075.6 L692.2 3076.0 L693.7 3076.3 L695.2 3076.7 L696.7 3077.0 L698.2 3077.4 L699.8 3077.7 L701.3 3078.1 L702.8 3078.5 L703.3 3078.6" fill="none" stroke="#ffff00" stroke-width="16" stroke-linecap="round" stroke-linejoin="round"/>
<path d="M768.4 3096.2 L768.4 3096.2 L769.9 3096.6 L771.3 3097.1 L772.8 3097.5 L774.3 3098.0 L775.8 3098.4 L777.2 3098.9 L778.7 3099.3 L780.2 3099.8 L781.7 3100.3 L783.1 3100.7 L784.6 3101.2 L786.1 3101.7 L787.5 3102.1 L789.0 3102.6 L790.5 3103.1 L791.9 3103.6 L793.4 3104.0 L794.9 3104.5 L796.3 3105.0 L797.8 3105.5 L799.3 3106.0 L800.7 3106.5 L802.2 3107.0 L803.7 3107.5 L805.1 3108.0 L806.6 3108.5 L808.0 3109.0 L808.8 3109.2" fill="none" stroke="#ffff00" stroke-width="16" stroke-linecap="round" stroke-linejoin="round"/>
<path d="M871.4 3132.5 L871.7 3132.6 L873.1 3133.2 L874.6 3133.8 L876.0 3134.3 L877.5 3134.9 L878.9 3135.4 L880.3 3136.0 L881.8 3136.6 L883.2 3137.1 L884.6 3137.7 L886.1 3138.2 L887.5 3138.8 L889.0 3139.3 L890.4 3139.9 L891.8 3140.5 L893.3 3141.0 L894.7 3141.6 L896.2 3142.1 L897.6 3142.7 L899.0 3143.2 L900.5 3143.8 L901.9 3144.4 L903.4 3144.9 L904.8 3145.5 L906.2 3146.0 L907.7 3146.6 L909.1 3147.1 L910.6 3147.7 L912.0 3148.2 L913.0 3148.6" fill="none" stroke="#ffff00" stroke-width="16" stroke-linecap="round" stroke-linejoin="round"/>
<path d="M978.7 3173.2 L979.9 3173.6 L981.4 3174.2 L982.8 3174.7 L984.3 3175.2 L985.7 3175.8 L987.2 3176.3 L988.6 3176.8 L990.1 3177.3 L991.5 3177.9 L993.0 3178.4 L994.4 3178.9 L995.9 3179.5 L997.3 3180.0 L998.8 3180.5 L1000.2 3181.0 L1001.7 3181.6 L1003.1 3182.1 L1004.6 3182.6 L1006.0 3183.1 L1007.5 3183.7 L1008.9 3184.2 L1010.4 3184.7 L1011.8 3185.2 L1013.3 3185.8 L1014.7 3186.3 L1016.2 3186.8 L1017.6 3187.3 L1018.3 3187.5" fill="none" stroke="#ffff00" stroke-width="16" stroke-linecap="round" stroke-linejoin="round"/>
<path d="M1083.0 3210.4 L1083.1 3210.5 L1084.5 3211.0 L1086.0 3211.5 L1087.5 3212.0 L1088.9 3212.5 L1090.4 3213.0 L1091.8 3213.5 L1093.3 3214.0 L1094.7 3214.5 L1096.2 3215.0 L1097.7 3215.5 L1099.1 3216.0 L1100.6 3216.5 L1102.0 3217.0 L1103.5 3217.5 L1104.9 3218.0 L1106.4 3218.5 L1107.9 3219.1 L1109.3 3219.6 L1110.8 3220.1 L1112.2 3220.6 L1113.7 3221.1 L1115.1 3221.6 L1116.6 3222.1 L1118.1 3222.6 L1119.5 3223.1 L1121.0 3223.6 L1122.4 3224.1 L1123.9 3224.6 L1124.4 3224.8" fill="none" stroke="#ffff00" stroke-width="16" stroke-linecap="round" stroke-linejoin="round"/>
<path d="M1185.6 3245.6 L1186.7 3246.0 L1188.2 3246.4 L1189.6 3246.9 L1191.1 3247.4 L1192.5 3247.9 L1194.0 3248.4 L1195.5 3248.9 L1196.9 3249.4 L1198.4 3249.9 L1199.8 3250.4 L1201.3 3250.9 L1202.8 3251.4 L1204.2 3251.9 L1205.7 3252.4 L1207.2 3252.9 L1208.6 3253.3 L1210.1 3253.8 L1211.5 3254.3 L1213.0 3254.8 L1214.5 3255.3 L1215.9 3255.8 L1217.4 3256.3 L1218.9 3256.8 L1220.3 3257.3 L1221.8 3257.8 L1223.2 3258.3 L1224.7 3258.8 L1226.0 3259.2" fill="none" stroke="#ffff00" stroke-width="16" stroke-linecap="round" stroke-linejoin="round"/>
<path d="M1290.1 3280.6 L1290.6 3280.8 L1292.0 3281.3 L1293.5 3281.8 L1295.0 3282.2 L1296.4 3282.7 L1297.9 3283.2 L1299.3 3283.7 L1300.8 3284.2 L1302.3 3284.7 L1303.7 3285.2 L1305.2 3285.7 L1306.7 3286.2 L1308.1 3286.6 L1309.6 3287.1 L1311.1 3287.6 L1312.5 3288.1 L1314.0 3288.6 L1315.5 3289.1 L1316.9 3289.6 L1318.4 3290.1 L1319.8 3290.6 L1321.3 3291.1 L1322.8 3291.5 L1324.2 3292.0 L1325.7 3292.5 L1327.2 3293.0 L1328.6 3293.5 L1330.1 3294.0 L1331.6 3294.5 L1331.8 3294.6" fill="none" stroke="#ffff00" stroke-width="16" stroke-linecap="round" stroke-linejoin="round"/>
<path d="M1397.3 3316.5 L1397.4 3316.6 L1398.9 3317.1 L1400.4 3317.6 L1401.8 3318.1 L1403.3 3318.6 L1404.7 3319.0 L1406.2 3319.5 L1407.7 3320.0 L1409.1 3320.5 L1410.6 3321.0 L1412.1 3321.5 L1413.5 3322.0 L1415.0 3322.5 L1416.4 3323.0 L1417.9 3323.5 L1419.4 3324.0 L1420.8 3324.5 L1422.3 3325.0 L1423.8 3325.5 L1425.2 3326.0 L1426.7 3326.5 L1428.1 3327.0 L1429.6 3327.5 L1431.1 3328.0 L1432.5 3328.5 L1434.0 3329.0 L1435.5 3329.5 L1436.9 3330.0 L1438.4 3330.5 L1439.8 3331.0 L1440.3 3331.1" fill="none" stroke="#ffff00" stroke-width="16" stroke-linecap="round" stroke-linejoin="round"/>
<path d="M1510.2 3355.2 L1511.4 3355.6 L1512.9 3356.1 L1514.3 3356.6 L1515.8 3357.1 L1517.3 3357.6 L1518.7 3358.2 L1520.2 3358.7 L1521.6 3359.2 L1523.1 3359.7 L1524.6 3360.2 L1526.0 3360.7 L1527.5 3361.2 L1528.9 3361.7 L1530.4 3362.3 L1531.8 3362.8 L1533.3 3363.3 L1534.8 3363.8 L1536.2 3364.3 L1537.7 3364.8 L1539.1 3365.3 L1540.6 3365.8 L1542.1 3366.4 L1543.5 3366.9 L1545.0 3367.4 L1546.4 3367.9 L1547.9 3368.4 L1549.3 3368.9 L1550.7 3369.4" fill="none" stroke="#ffff00" stroke-width="16" stroke-linecap="round" stroke-linejoin="round"/>
<path d="M1617.3 3393.5 L1617.7 3393.6 L1619.2 3394.2 L1620.6 3394.7 L1622.1 3395.2 L1623.5 3395.8 L1625.0 3396.3 L1626.4 3396.8 L1627.9 3397.4 L1629.3 3397.9 L1630.8 3398.4 L1632.2 3399.0 L1633.7 3399.5 L1635.1 3400.1 L1636.6 3400.6 L1638.0 3401.1 L1639.5 3401.7 L1640.9 3402.2 L1642.4 3402.8 L1643.8 3403.3 L1645.3 3403.9 L1646.7 3404.4 L1648.2 3404.9 L1649.6 3405.5 L1651.1 3406.0 L1652.5 3406.6 L1654.0 3407.1 L1655.4 3407.7 L1656.5 3408.1" fill="none" stroke="#ffff00" stroke-width="16" stroke-linecap="round" stroke-linejoin="round"/>
<path d="M1721.7 3433.8 L1723.0 3434.3 L1724.4 3434.9 L1725.9 3435.5 L1727.3 3436.1 L1728.7 3436.6 L1730.1 3437.2 L1731.6 3437.8 L1733.0 3438.4 L1734.4 3439.0 L1735.8 3439.6 L1737.3 3440.2 L1738.7 3440.8 L1740.1 3441.4 L1741.5 3442.0 L1743.0 3442.6 L1744.4 3443.2 L1745.8 3443.8 L1747.2 3444.4 L1748.6 3445.0 L1750.1 3445.6 L1751.5 3446.2 L1752.9 3446.8 L1754.3 3447.4 L1755.7 3448.1 L1757.2 3448.7 L1758.6 3449.3 L1759.9 3449.8" fill="none" stroke="#ffff00" stroke-width="16" stroke-linecap="round" stroke-linejoin="round"/>
<path d="M1825.5 3480.0 L1825.7 3480.2 L1827.1 3480.8 L1828.5 3481.5 L1829.9 3482.2 L1831.3 3482.9 L1832.6 3483.6 L1834.0 3484.2 L1835.4 3484.9 L1836.8 3485.6 L1838.1 3486.3 L1839.5 3487.0 L1840.9 3487.7 L1842.3 3488.4 L1843.6 3489.1 L1845.0 3489.8 L1846.4 3490.5 L1847.7 3491.2 L1849.1 3491.9 L1850.5 3492.6 L1851.9 3493.3 L1853.2 3494.0 L1854.6 3494.7 L1855.9 3495.4 L1857.3 3496.1 L1858.7 3496.8 L1860.0 3497.5 L1861.4 3498.3 L1862.7 3499.0 L1864.1 3499.7 L1864.4 3499.9" fill="none" stroke="#ffff00" stroke-width="16" stroke-linecap="round" stroke-linejoin="round"/>
<path d="M1913.1 3527.2 L1913.7 3527.5 L1915.0 3528.3 L1916.3 3529.1 L1917.6 3529.9 L1919.0 3530.7 L1920.3 3531.5 L1921.6 3532.3 L1922.9 3533.1 L1924.2 3533.9 L1925.5 3534.7 L1926.8 3535.5 L1928.1 3536.3 L1929.4 3537.1 L1930.8 3537.9 L1932.1 3538.8 L1933.4 3539.6 L1934.7 3540.4 L1936.0 3541.2 L1937.3 3542.0 L1938.6 3542.8 L1939.9 3543.7 L1941.2 3544.5 L1942.5 3545.3 L1943.8 3546.2 L1945.0 3547.0 L1946.3 3547.8 L1947.6 3548.7 L1948.1 3549.0" fill="none" stroke="#ffff00" stroke-width="16" stroke-linecap="round" stroke-linejoin="round"/>
<path d="M1993.0 3580.1 L1993.3 3580.3 L1994.5 3581.2 L1995.8 3582.2 L1997.0 3583.1 L1998.3 3584.0 L1999.5 3585.0 L2000.7 3585.9 L2002.0 3586.8 L2003.2 3587.8 L2004.4 3588.7 L2005.7 3589.6 L2006.9 3590.6 L2008.1 3591.5 L2009.4 3592.5 L2010.6 3593.4 L2011.8 3594.4 L2013.0 3595.3 L2014.2 3596.3 L2015.5 3597.3 L2016.7 3598.2 L2017.9 3599.2 L2019.1 3600.2 L2020.3 3601.1 L2021.5 3602.1 L2022.8 3603.1 L2024.0 3604.1 L2025.2 3605.1 L2026.4 3606.0 L2026.9 3606.5" fill="none" stroke="#ffff00" stroke-width="16" stroke-linecap="round" stroke-linejoin="round"/>
<path d="M333.0 2795.8 L335.4 2796.1 L337.8 2796.6 L340.1 2797.2 L342.2 2797.9 L344.2 2798.8 L346.2 2799.8 L348.0 2801.0 L349.8 2802.2 L351.4 2803.5 L353.0 2805.0 L354.5 2806.5 L356.0 2808.1 L357.3 2809.7 L358.6 2811.5 L359.9 2813.2 L361.1 2815.1 L362.2 2817.0 L363.3 2818.9 L364.4 2820.9 L365.4 2822.9 L366.4 2824.9 L367.4 2827.0 L368.3 2829.0 L369.3 2831.1 L370.2 2833.2 L371.1 2835.3 L372.0 2837.4 L372.9 2839.5 L373.7 2841.6 L374.6 2843.7 L375.5 2845.8 L376.3 2847.9 L377.2 2850.1 L378.0 2852.2 L378.9 2854.3 L379.7 2856.4 L380.5 2858.5 L381.3 2860.7 L382.1 2862.8 L382.9 2864.9 L383.7 2867.0 L384.5 2869.2 L385.3 2871.3 L386.0 2873.4 L386.8 2875.5 L387.6 2877.7 L388.3 2879.8 L389.1 2882.0 L389.8 2884.1 L390.5 2886.2 L391.2 2888.4 L392.0 2890.5 L392.7 2892.7 L393.4 2894.8 L394.1 2897.0 L394.8 2899.1 L395.4 2901.3 L396.1 2903.4 L396.8 2905.6 L397.5 2907.7 L398.1 2909.9 L398.8 2912.0 L399.4 2914.2 L400.1 2916.4 L400.7 2918.5 L401.4 2920.7 L402.0 2922.8 L402.6 2925.0 L403.2 2927.2 L403.8 2929.3 L404.5 2931.5 L405.1 2933.7 L405.7 2935.9 L406.3 2938.0 L406.8 2940.2 L407.4 2942.4 L408.0 2944.6 L408.6 2946.7 L409.2 2948.9 L409.7 2951.1 L410.3 2953.3 L410.8 2955.5 L411.4 2957.6 L411.9 2959.8 L412.5 2962.0 L413.0 2964.2 L413.6 2966.4 L414.1 2968.6 L414.6 2970.7 L415.2 2972.9 L415.7 2975.1 L416.2 2977.3 L416.7 2979.5 L417.2 2981.7 L417.8 2983.9 L418.3 2986.1 L418.8 2988.3 L419.3 2990.5 L419.8 2992.7 L420.3 2994.9 L420.8 2997.0 L421.2 2999.2 L421.7 3001.4 L422.2 3003.6 L422.7 3005.8 L423.2 3008.0 L423.7 3010.2 L424.1 3012.4 L424.6 3014.6 L425.1 3016.8 L425.5 3019.0 L426.0 3021.2 L426.5 3023.4 L426.9 3025.6 L427.4 3027.8 L427.8 3030.1 L428.3 3032.3 L428.8 3034.5 L429.2 3036.7 L429.7 3038.9 L430.1 3041.1 L430.6 3043.3 L431.0 3045.5 L431.5 3047.7 L431.9 3049.9 L432.4 3052.1 L432.8 3054.3 L433.2 3056.5 L433.7 3058.7 L434.1 3060.9 L434.6 3063.1 L435.0 3065.3 L435.4 3067.6 L435.9 3069.8 L436.3 3072.0 L436.8 3074.2 L437.2 3076.4 L437.6 3078.6 L438.1 3080.8 L438.5 3083.0 L439.0 3085.2 L439.4 3087.4 L439.8 3089.6 L440.3 3091.8 L440.7 3094.0 L441.2 3096.2 L441.6 3098.5 L442.0 3100.7 L442.5 3102.9 L442.9 3105.1 L443.4 3107.3 L443.8 3109.5 L444.2 3111.7 L444.7 3113.9 L445.1 3116.1 L445.6 3118.3 L446.0 3120.5 L446.5 3122.7 L446.9 3124.9 L447.4 3127.1 L447.8 3129.3 L448.3 3131.5 L448.7 3133.7 L449.2 3135.9 L449.6 3138.1 L450.1 3140.4 L450.5 3142.6 L451.0 3144.8 L451.4 3147.0 L451.9 3149.2 L452.3 3151.4 L452.8 3153.6 L453.3 3155.8 L453.7 3158.0 L454.2 3160.2 L454.6 3162.4 L455.1 3164.6 L455.6 3166.8 L456.0 3169.0 L456.5 3171.2 L456.9 3173.4 L457.4 3175.6 L457.9 3177.8 L458.3 3180.0 L458.8 3182.2 L459.3 3184.4 L459.7 3186.6 L460.2 3188.8 L460.7 3191.0 L461.1 3193.2 L461.6 3195.4 L462.1 3197.6 L462.5 3199.8 L463.0 3202.0 L463.5 3204.2 L464.0 3206.4 L464.4 3208.6 L464.9 3210.8 L465.4 3213.0 L465.9 3215.2 L466.3 3217.4 L466.8 3219.6 L467.3 3221.8 L467.8 3224.0 L468.3 3226.2 L468.7 3228.4 L469.2 3230.6 L469.7 3232.8 L470.2 3235.0 L470.7 3237.2 L471.2 3239.4 L471.7 3241.6 L472.1 3243.7 L472.6 3245.9 L473.1 3248.1 L473.6 3250.3 L474.1 3252.5 L474.6 3254.7 L475.1 3256.9 L475.6 3259.1 L476.1 3261.3 L476.6 3263.5 L477.1 3265.7 L477.5 3267.9 L478.0 3270.1 L478.5 3272.3 L479.0 3274.5 L479.5 3276.7 L480.0 3278.9 L480.5 3281.1 L481.0 3283.3 L481.5 3285.5 L482.0 3287.7 L482.6 3289.9 L483.1 3292.1 L483.6 3294.3 L484.1 3296.5 L484.6 3298.7 L485.1 3300.8 L485.6 3303.0 L486.1 3305.2 L486.6 3307.4 L487.1 3309.6 L487.6 3311.8 L488.2 3314.0 L488.7 3316.2 L489.2 3318.4 L489.7 3320.6 L490.2 3322.8 L490.7 3325.0 L491.3 3327.2 L491.8 3329.4 L492.3 3331.6 L492.8 3333.8 L493.4 3336.0 L493.9 3338.2 L494.4 3340.3 L494.9 3342.5 L495.5 3344.7 L496.0 3346.9 L496.5 3349.1 L497.0 3351.3 L497.6 3353.5 L498.1 3355.7 L498.6 3357.9 L499.2 3360.1 L499.7 3362.3 L500.2 3364.5 L500.8 3366.7 L501.3 3368.9 L501.9 3371.1 L502.4 3373.3 L502.9 3375.5 L503.5 3377.6 L504.0 3379.8 L504.6 3382.0 L505.1 3384.2 L505.7 3386.4 L506.2 3388.6 L506.8 3390.8 L507.3 3393.0 L507.8 3395.2 L508.4 3397.4 L509.0 3399.6 L509.5 3401.8 L510.1 3404.0 L510.6 3406.2 L511.2 3408.4 L511.7 3410.5 L512.3 3412.7 L512.8 3414.9 L513.4 3417.1 L514.0 3419.3 L514.5 3421.5 L515.1 3423.7 L515.7 3425.9 L516.3 3428.1 L516.8 3430.3 L517.4 3432.5 L518.0 3434.6 L518.6 3436.8 L519.2 3439.0 L519.8 3441.2 L520.4 3443.4 L521.0 3445.6 L521.6 3447.7 L522.2 3449.9 L522.8 3452.1 L523.4 3454.3 L524.0 3456.4 L524.6 3458.6 L525.2 3460.8 L525.9 3462.9 L526.5 3465.1 L527.1 3467.3 L527.8 3469.4 L528.4 3471.6 L529.1 3473.8 L529.8 3475.9 L530.4 3478.1 L531.1 3480.2 L531.8 3482.4 L532.4 3484.5 L533.1 3486.7 L533.8 3488.8 L534.5 3490.9 L535.2 3493.1 L535.9 3495.2 L536.6 3497.3 L537.4 3499.5 L538.1 3501.6 L538.8 3503.7 L539.6 3505.8 L540.3 3508.0 L541.1 3510.1 L541.8 3512.2 L542.6 3514.3 L543.4 3516.4 L544.2 3518.5 L545.0 3520.6 L545.8 3522.7 L546.6 3524.8 L547.4 3526.8 L548.2 3528.9 L549.1 3531.0 L549.9 3533.1 L550.8 3535.1 L551.6 3537.2 L552.5 3539.3 L553.4 3541.3 L554.3 3543.4 L555.1 3545.4 L556.0 3547.5 L557.0 3549.5 L557.9 3551.6 L558.8 3553.6 L559.8 3555.6 L560.7 3557.6 L561.7 3559.7 L562.6 3561.7 L563.6 3563.7 L564.6 3565.7 L565.6 3567.7 L566.6 3569.7 L567.7 3571.7 L568.7 3573.6 L569.7 3575.6 L570.8 3577.6 L571.9 3579.6 L573.0 3581.5 L574.0 3583.5 L575.1 3585.4 L576.3 3587.4 L577.4 3589.3 L578.5 3591.2 L579.7 3593.2 L580.8 3595.1 L582.0 3597.0 L583.2 3598.9 L584.4 3600.8 L585.6 3602.7 L586.8 3604.6 L588.1 3606.5 L589.3 3608.4 L590.6 3610.2 L591.9 3612.1 L593.2 3614.0 L594.5 3615.8 L595.8 3617.7 L597.1 3619.5 L598.5 3621.3 L599.8 3623.2 L601.2 3625.0 L602.6 3626.8 L604.0 3628.6 L605.4 3630.4 L606.8 3632.2 L608.3 3634.0 L609.7 3635.8" fill="none" stroke="#ff00ff" stroke-width="20" stroke-linecap="round" stroke-linejoin="round"/>
</g>
<path d="M737.8 530.6 L942.8 530.6" fill="none" stroke="#00ff00" stroke-width="20" stroke-linecap="round" stroke-linejoin="round"/>
<path d="M737.8 642.7 L813.0 642.7" fill="none" stroke="#ff0000" stroke-width="20" stroke-linecap="round" stroke-linejoin="round"/>
<path d="M937.0 642.7 L941.0 642.7" fill="none" stroke="#ff0000" stroke-width="20" stroke-linecap="round" stroke-linejoin="round"/>
<path d="M737.8 755.8 L942.8 755.8" fill="none" stroke="#00ffff" stroke-width="20" stroke-linecap="round" stroke-linejoin="round"/>
<circle cx="1609.0" cy="692.0" r="26.0" fill="#0000ff"/><circle cx="1601.0" cy="684.0" r="12.5" fill="#7070ff"/><circle cx="1601.0" cy="684.0" r="9.5" fill="#b4b4ff"/><circle cx="1601.0" cy="684.0" r="4.1" fill="#f8f8ff"/>
<path d="M724.2 2064.4 L935.6 2064.4" fill="none" stroke="#ff0000" stroke-width="20" stroke-linecap="round" stroke-linejoin="round"/>
<path d="M724.5 2180.6 L766.3 2180.6" fill="none" stroke="#ffff00" stroke-width="16" stroke-linecap="round" stroke-linejoin="round"/>
<path d="M837.0 2180.6 L878.9 2180.6" fill="none" stroke="#ffff00" stroke-width="16" stroke-linecap="round" stroke-linejoin="round"/>
<path d="M724.2 2296.4 L935.6 2296.4" fill="none" stroke="#ff00ff" stroke-width="20" stroke-linecap="round" stroke-linejoin="round"/>
<rect x="544.0" y="1577.0" width="13.0" height="105.0" fill="#000"/><path d="M533.0 1683.0 L568.0 1683.0 L550.5 1753.0 Z" fill="#000" stroke="#000" stroke-width="10" stroke-linejoin="round"/>
<rect x="2077.0" y="1621.0" width="13.0" height="87.0" fill="#000"/><path d="M2065.7 1709.0 L2101.3 1709.0 L2083.5 1780.0 Z" fill="#000" stroke="#000" stroke-width="10" stroke-linejoin="round"/>
<rect x="612.7" y="3438.0" width="13.0" height="85.0" fill="#000"/><path d="M601.7 3524.0 L636.7 3524.0 L619.2 3596.0 Z" fill="#000" stroke="#000" stroke-width="10" stroke-linejoin="round"/>
<rect x="2073.0" y="3427.0" width="13.0" height="75.4" fill="#000"/><path d="M2062.0 3503.4 L2097.0 3503.4 L2079.5 3575.0 Z" fill="#000" stroke="#000" stroke-width="10" stroke-linejoin="round"/>
<text x="0" y="0" font-family="'Liberation Sans', Arial, sans-serif" font-size="87.00" font-weight="normal" font-style="normal" fill="#000" transform="matrix(0.99000 0 0 1.04000 253.35 1879.20)">0</text>
<text x="0" y="0" font-family="'Liberation Sans', Arial, sans-serif" font-size="87.00" font-weight="normal" font-style="normal" fill="#000" transform="matrix(0.99000 0 0 1.04000 205.83 1584.39)">30</text>
<text x="0" y="0" font-family="'Liberation Sans', Arial, sans-serif" font-size="87.00" font-weight="normal" font-style="normal" fill="#000" transform="matrix(0.99000 0 0 1.04000 205.83 1289.58)">60</text>
<text x="0" y="0" font-family="'Liberation Sans', Arial, sans-serif" font-size="87.00" font-weight="normal" font-style="normal" fill="#000" transform="matrix(0.99000 0 0 1.04000 205.83 994.77)">90</text>
<text x="0" y="0" font-family="'Liberation Sans', Arial, sans-serif" font-size="87.00" font-weight="normal" font-style="normal" fill="#000" transform="matrix(0.99000 0 0 1.04000 157.32 699.96)">120</text>
<text x="0" y="0" font-family="'Liberation Sans', Arial, sans-serif" font-size="87.00" font-weight="normal" font-style="normal" fill="#000" transform="matrix(0.99000 0 0 1.04000 157.32 405.15)">150</text>
<text x="0" y="0" font-family="'Liberation Sans', Arial, sans-serif" font-size="87.00" font-weight="normal" font-style="normal" fill="#000" transform="matrix(0.99000 0 0 1.04000 157.32 110.34)">180</text>
<text x="0" y="0" font-family="'Liberation Sans', Arial, sans-serif" font-size="88.00" font-weight="normal" font-style="normal" fill="#000" transform="matrix(0.99000 0 0 1.04000 250.65 3654.90)">0</text>
<text x="0" y="0" font-family="'Liberation Sans', Arial, sans-serif" font-size="88.00" font-weight="normal" font-style="normal" fill="#000" transform="matrix(0.99000 0 0 1.04000 202.14 3358.89)">30</text>
<text x="0" y="0" font-family="'Liberation Sans', Arial, sans-serif" font-size="88.00" font-weight="normal" font-style="normal" fill="#000" transform="matrix(0.99000 0 0 1.04000 202.14 3062.88)">60</text>
<text x="0" y="0" font-family="'Liberation Sans', Arial, sans-serif" font-size="88.00" font-weight="normal" font-style="normal" fill="#000" transform="matrix(0.99000 0 0 1.04000 202.14 2766.87)">90</text>
<text x="0" y="0" font-family="'Liberation Sans', Arial, sans-serif" font-size="88.00" font-weight="normal" font-style="normal" fill="#000" transform="matrix(0.99000 0 0 1.04000 153.63 2470.86)">120</text>
<text x="0" y="0" font-family="'Liberation Sans', Arial, sans-serif" font-size="88.00" font-weight="normal" font-style="normal" fill="#000" transform="matrix(0.99000 0 0 1.04000 153.63 2174.85)">150</text>
<text x="0" y="0" font-family="'Liberation Sans', Arial, sans-serif" font-size="87.40" font-weight="normal" font-style="normal" fill="#000" text-anchor="middle" transform="matrix(0.99000 0 0 1.04000 333.00 3729.90)">0.0</text>
<text x="0" y="0" font-family="'Liberation Sans', Arial, sans-serif" font-size="87.40" font-weight="normal" font-style="normal" fill="#000" text-anchor="middle" transform="matrix(0.99000 0 0 1.04000 665.67 3729.90)">0.4</text>
<text x="0" y="0" font-family="'Liberation Sans', Arial, sans-serif" font-size="87.40" font-weight="normal" font-style="normal" fill="#000" text-anchor="middle" transform="matrix(0.99000 0 0 1.04000 998.34 3729.90)">0.8</text>
<text x="0" y="0" font-family="'Liberation Sans', Arial, sans-serif" font-size="87.40" font-weight="normal" font-style="normal" fill="#000" text-anchor="middle" transform="matrix(0.99000 0 0 1.04000 1331.00 3729.90)">1.2</text>
<text x="0" y="0" font-family="'Liberation Sans', Arial, sans-serif" font-size="87.40" font-weight="normal" font-style="normal" fill="#000" text-anchor="middle" transform="matrix(0.99000 0 0 1.04000 1663.67 3729.90)">1.6</text>
<text x="0" y="0" font-family="'Liberation Sans', Arial, sans-serif" font-size="87.40" font-weight="normal" font-style="normal" fill="#000" text-anchor="middle" transform="matrix(0.99000 0 0 1.04000 1996.34 3729.90)">2.0</text>
<text x="0" y="0" font-family="'Liberation Sans', Arial, sans-serif" font-size="87.40" font-weight="normal" font-style="normal" fill="#000" text-anchor="middle" transform="matrix(0.99000 0 0 1.04000 2329.01 3729.90)">2.4</text>
<text x="0" y="0" font-family="'Liberation Sans', Arial, sans-serif" font-size="95.50" font-weight="normal" font-style="normal" fill="#000" transform="matrix(0.98927 0 0 0.99000 989.91 3880.80)">temperature (K)</text>
<text x="0" y="0" font-family="'Liberation Sans', Arial, sans-serif" font-size="95.50" font-weight="normal" font-style="normal" fill="#000" transform="translate(120.30 1364.66) rotate(-90) scale(0.99102 0.99000)">critical current (nA)</text>
<text x="0" y="0" font-family="'Liberation Sans', Arial, sans-serif" font-size="96.00" font-weight="normal" font-style="normal" fill="#000" transform="translate(115.30 3135.76) rotate(-90) scale(0.98994 0.99000)">critical current (nA)</text>
<text x="0" y="0" font-family="'Liberation Sans', Arial, sans-serif" font-size="107.00" font-weight="bold" font-style="normal" fill="#000" transform="matrix(0.93333 0 0 0.98500 402.20 226.70)">a</text>
<text x="0" y="0" font-family="'Liberation Sans', Arial, sans-serif" font-size="108.00" font-weight="bold" font-style="normal" fill="#000" transform="matrix(1.01091 0 0 0.98800 401.52 2024.60)">b</text>
<text x="0" y="0" font-family="'Liberation Sans', Arial, sans-serif" font-size="134.40" font-weight="bold" font-style="normal" fill="#000" transform="matrix(1.00815 0 0 1.00000 764.83 249.00)">Nb/BiSbTeSe<tspan font-size="80.40" dy="35.70">2</tspan><tspan font-size="134.40" dy="-35.70">/Nb</tspan></text>
<text x="0" y="0" font-family="'Liberation Sans', Arial, sans-serif" font-size="100.30" font-weight="bold" font-style="normal" fill="#000" transform="matrix(0.99603 0 0 1.01000 764.84 412.80)"><tspan fill="#ff0000"><tspan font-style="italic">V</tspan><tspan font-size="70.00" dy="26.40" font-style="italic">g</tspan><tspan font-size="100.30" dy="-26.40"> = 0 V</tspan></tspan> (Kayyalha, <tspan font-style="italic">et al.</tspan> [56])</text>
<text x="0" y="0" font-family="'Liberation Sans', Arial, sans-serif" font-size="91.00" font-weight="normal" font-style="normal" fill="#000" transform="matrix(0.97692 0 0 0.98500 991.82 563.00)">fit to two-band ballistic model</text>
<text x="0" y="0" font-family="'Liberation Sans', Arial, sans-serif" font-size="90.20" font-weight="normal" font-style="normal" fill="#000" transform="matrix(0.98500 0 0 1.01000 992.11 674.70)">Band 1</text>
<text x="0" y="0" font-family="'Liberation Sans', Arial, sans-serif" font-size="90.20" font-weight="normal" font-style="normal" fill="#000" transform="matrix(0.98504 0 0 1.01000 992.10 787.90)">Band 2</text>
<text x="0" y="0" font-family="'Liberation Sans', Arial, sans-serif" font-size="96.60" font-weight="normal" font-style="normal" fill="#000" transform="matrix(0.99493 0 0 1.01000 1722.72 725.70)"><tspan font-style="italic">I</tspan><tspan font-size="67.00" dy="27.00" font-style="italic">c</tspan><tspan font-size="96.60" dy="-27.00">(sf,</tspan><tspan font-style="italic">T</tspan>)</text>
<text x="0" y="0" font-family="'Liberation Sans', Arial, sans-serif" font-size="88.40" font-weight="normal" font-style="normal" fill="#000" transform="matrix(1.00009 0 0 1.03000 1135.20 940.60)">2&#183;&#916;<tspan font-size="61.88" dy="24.04" font-style="italic">1</tspan><tspan font-size="88.40" dy="-24.04">(0)/</tspan><tspan font-style="italic">k</tspan><tspan font-size="61.88" dy="24.04" font-style="italic">B</tspan><tspan font-size="88.40" dy="-24.04">&#183;</tspan><tspan font-style="italic">T</tspan><tspan font-size="61.88" dy="24.04" font-style="italic">c1</tspan><tspan font-size="88.40" dy="-24.04"> = 0.94 &#177; 0.04</tspan></text>
<text x="0" y="0" font-family="'Liberation Sans', Arial, sans-serif" font-size="88.40" font-weight="normal" font-style="normal" fill="#000" transform="matrix(0.99928 0 0 1.03000 1136.20 1081.00)">2&#183;&#916;<tspan font-size="61.88" dy="24.04">2</tspan><tspan font-size="88.40" dy="-24.04">(0)/</tspan><tspan font-style="italic">k</tspan><tspan font-size="61.88" dy="24.04" font-style="italic">B</tspan><tspan font-size="88.40" dy="-24.04">&#183;</tspan><tspan font-style="italic">T</tspan><tspan font-size="61.88" dy="24.04" font-style="italic">c2</tspan><tspan font-size="88.40" dy="-24.04"> = 9.5 &#177; 0.3</tspan></text>
<text x="0" y="0" font-family="'Liberation Sans', Arial, sans-serif" font-size="88.40" font-weight="normal" font-style="normal" fill="#000" transform="matrix(1.00000 0 0 1.03000 1137.20 1215.50)">&#916;<tspan font-style="italic">C</tspan><tspan font-size="61.88" dy="24.04" font-style="italic">1</tspan><tspan font-size="88.40" dy="-24.04">/</tspan><tspan font-style="italic">C</tspan><tspan font-size="61.88" dy="24.04" font-style="italic">1</tspan><tspan font-size="88.40" dy="-24.04"> = 0.014 &#177; 0.001</tspan></text>
<text x="0" y="0" font-family="'Liberation Sans', Arial, sans-serif" font-size="88.40" font-weight="normal" font-style="normal" fill="#000" transform="matrix(0.99651 0 0 1.03000 1137.01 1357.50)">&#916;<tspan font-style="italic">C</tspan><tspan font-size="61.88" dy="24.04" font-style="italic">2</tspan><tspan font-size="88.40" dy="-24.04">/</tspan><tspan font-style="italic">C</tspan><tspan font-size="61.88" dy="24.04" font-style="italic">2</tspan><tspan font-size="88.40" dy="-24.04"> = 1.5 &#177; 0.2</tspan></text>
<text x="0" y="0" font-family="'Liberation Sans', Arial, sans-serif" font-size="92.30" font-weight="normal" font-style="normal" fill="#000" transform="matrix(1.00354 0 0 1.03000 1191.58 2558.80)">2&#183;&#916;<tspan font-size="64.61" dy="25.11" font-style="italic">1</tspan><tspan font-size="92.30" dy="-25.11">(0)/</tspan><tspan font-style="italic">k</tspan><tspan font-size="64.61" dy="25.11" font-style="italic">B</tspan><tspan font-size="92.30" dy="-25.11">&#183;</tspan><tspan font-style="italic">T</tspan><tspan font-size="64.61" dy="25.11">c1</tspan><tspan font-size="92.30" dy="-25.11"> = 1.6 &#177; 0.2</tspan></text>
<text x="0" y="0" font-family="'Liberation Sans', Arial, sans-serif" font-size="92.30" font-weight="normal" font-style="normal" fill="#000" transform="matrix(1.00354 0 0 1.03000 1191.58 2706.80)">2&#183;&#916;<tspan font-size="64.61" dy="25.11">2</tspan><tspan font-size="92.30" dy="-25.11">(0)/</tspan><tspan font-style="italic">k</tspan><tspan font-size="64.61" dy="25.11" font-style="italic">B</tspan><tspan font-size="92.30" dy="-25.11">&#183;</tspan><tspan font-style="italic">T</tspan><tspan font-size="64.61" dy="25.11">c2</tspan><tspan font-size="92.30" dy="-25.11"> = 3.1 &#177; 0.7</tspan></text>
<text x="0" y="0" font-family="'Liberation Sans', Arial, sans-serif" font-size="92.30" font-weight="normal" font-style="normal" fill="#000" transform="matrix(0.99988 0 0 1.03000 1167.00 2858.00)">&#916;<tspan font-style="italic">C</tspan><tspan font-size="64.61" dy="25.11" font-style="italic">1</tspan><tspan font-size="92.30" dy="-25.11">/</tspan><tspan font-style="italic">C</tspan><tspan font-size="64.61" dy="25.11" font-style="italic">1</tspan><tspan font-size="92.30" dy="-25.11"> = 0.63 &#177; 0.19</tspan></text>
<text x="0" y="0" font-family="'Liberation Sans', Arial, sans-serif" font-size="92.30" font-weight="normal" font-style="normal" fill="#000" transform="matrix(0.99871 0 0 1.03000 1167.00 3006.20)">&#916;<tspan font-style="italic">C</tspan><tspan font-size="64.61" dy="25.11" font-style="italic">2</tspan><tspan font-size="92.30" dy="-25.11">/</tspan><tspan font-style="italic">C</tspan><tspan font-size="64.61" dy="25.11" font-style="italic">2</tspan><tspan font-size="92.30" dy="-25.11"> = 0.20 &#177; 0.06</tspan></text>
<text x="0" y="0" font-family="'Liberation Sans', Arial, sans-serif" font-size="121.50" font-weight="bold" font-style="italic" fill="#000" transform="matrix(0.96899 0 0 1.02000 510.18 1496.80)">T<tspan font-size="84.00" dy="33.00">c2</tspan></text>
<text x="0" y="0" font-family="'Liberation Sans', Arial, sans-serif" font-size="121.50" font-weight="bold" font-style="italic" fill="#000" transform="matrix(0.99000 0 0 1.02000 2014.89 1568.70)">T<tspan font-size="84.00" dy="33.00">c1</tspan></text>
<text x="0" y="0" font-family="'Liberation Sans', Arial, sans-serif" font-size="125.60" font-weight="bold" font-style="italic" fill="#000" transform="matrix(0.97500 0 0 1.02000 564.23 3390.90)">T<tspan font-size="84.00" dy="33.20">c2</tspan></text>
<text x="0" y="0" font-family="'Liberation Sans', Arial, sans-serif" font-size="125.60" font-weight="bold" font-style="italic" fill="#000" transform="matrix(0.99000 0 0 1.02000 2002.89 3360.80)">T<tspan font-size="84.00" dy="33.00">c1</tspan></text>
<text x="0" y="0" font-family="'Liberation Sans', Arial, sans-serif" font-size="93.50" font-weight="normal" font-style="normal" fill="#000" transform="matrix(0.98672 0 0 0.98500 995.51 2096.70)">fit to two-band AB model [51,52]</text>
<text x="0" y="0" font-family="'Liberation Sans', Arial, sans-serif" font-size="93.50" font-weight="normal" font-style="normal" fill="#000" transform="matrix(0.99000 0 0 1.01000 988.98 2212.10)">Band 1</text>
<text x="0" y="0" font-family="'Liberation Sans', Arial, sans-serif" font-size="93.50" font-weight="normal" font-style="normal" fill="#000" transform="matrix(0.97782 0 0 1.01000 989.08 2329.10)">Band 2</text>
</svg></body></html>
